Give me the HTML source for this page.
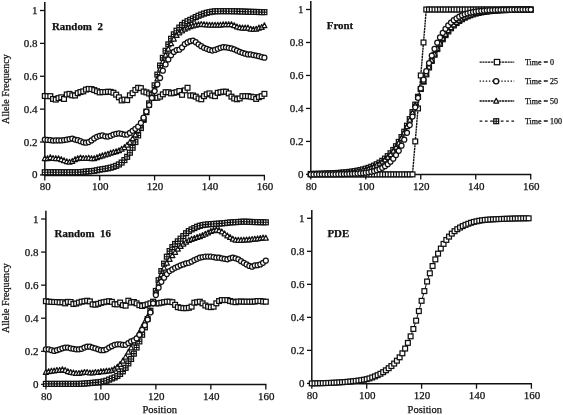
<!DOCTYPE html>
<html lang="en"><head><meta charset="utf-8"><title>Allele frequency clines</title>
<style>html,body{margin:0;padding:0;background:#fff}svg .ax text{stroke-width:0.25px}</style></head>
<body>
<svg width="563" height="415" viewBox="0 0 563 415" style="display:block" role="img" aria-label="Allele frequency versus position for four models">
<rect width="563" height="415" fill="#ffffff"/>
<g font-family="'Liberation Serif', serif" font-size="10.5" fill="#111" stroke="#111">
<g class="ax">
<path d="M44.80 2.00V175.40H265.00" fill="none" stroke-width="1.5"/><path d="M40.00 174.90H44.80" stroke-width="1.3"/><text x="37.50" y="178.40" text-anchor="end" font-size="11">0</text><path d="M40.00 142.02H44.80" stroke-width="1.3"/><text x="37.50" y="145.52" text-anchor="end" font-size="11">0.2</text><path d="M40.00 109.14H44.80" stroke-width="1.3"/><text x="37.50" y="112.64" text-anchor="end" font-size="11">0.4</text><path d="M40.00 76.26H44.80" stroke-width="1.3"/><text x="37.50" y="79.76" text-anchor="end" font-size="11">0.6</text><path d="M40.00 43.38H44.80" stroke-width="1.3"/><text x="37.50" y="46.88" text-anchor="end" font-size="11">0.8</text><path d="M40.00 10.50H44.80" stroke-width="1.3"/><text x="37.50" y="14.00" text-anchor="end" font-size="11">1</text><path d="M44.80 175.40V180.40" stroke-width="1.3"/><text x="45.30" y="190.40" text-anchor="middle" font-size="11">80</text><path d="M99.70 175.40V180.40" stroke-width="1.3"/><text x="100.20" y="190.40" text-anchor="middle" font-size="11">100</text><path d="M154.60 175.40V180.40" stroke-width="1.3"/><text x="155.10" y="190.40" text-anchor="middle" font-size="11">120</text><path d="M209.50 175.40V180.40" stroke-width="1.3"/><text x="210.00" y="190.40" text-anchor="middle" font-size="11">140</text><path d="M264.40 175.40V180.40" stroke-width="1.3"/><text x="264.90" y="190.40" text-anchor="middle" font-size="11">160</text>
<path d="M310.80 1.00V174.60H531.32" fill="none" stroke-width="1.5"/><path d="M306.00 174.40H310.80" stroke-width="1.3"/><text x="303.50" y="177.90" text-anchor="end" font-size="11">0</text><path d="M306.00 141.42H310.80" stroke-width="1.3"/><text x="303.50" y="144.92" text-anchor="end" font-size="11">0.2</text><path d="M306.00 108.44H310.80" stroke-width="1.3"/><text x="303.50" y="111.94" text-anchor="end" font-size="11">0.4</text><path d="M306.00 75.46H310.80" stroke-width="1.3"/><text x="303.50" y="78.96" text-anchor="end" font-size="11">0.6</text><path d="M306.00 42.48H310.80" stroke-width="1.3"/><text x="303.50" y="45.98" text-anchor="end" font-size="11">0.8</text><path d="M306.00 9.50H310.80" stroke-width="1.3"/><text x="303.50" y="13.00" text-anchor="end" font-size="11">1</text><path d="M310.80 174.60V179.60" stroke-width="1.3"/><text x="311.30" y="189.60" text-anchor="middle" font-size="11">80</text><path d="M365.78 174.60V179.60" stroke-width="1.3"/><text x="366.28" y="189.60" text-anchor="middle" font-size="11">100</text><path d="M420.76 174.60V179.60" stroke-width="1.3"/><text x="421.26" y="189.60" text-anchor="middle" font-size="11">120</text><path d="M475.74 174.60V179.60" stroke-width="1.3"/><text x="476.24" y="189.60" text-anchor="middle" font-size="11">140</text><path d="M530.72 174.60V179.60" stroke-width="1.3"/><text x="531.22" y="189.60" text-anchor="middle" font-size="11">160</text>
<path d="M45.90 210.80V384.60H266.42" fill="none" stroke-width="1.5"/><path d="M41.10 384.40H45.90" stroke-width="1.3"/><text x="38.60" y="387.90" text-anchor="end" font-size="11">0</text><path d="M41.10 351.32H45.90" stroke-width="1.3"/><text x="38.60" y="354.82" text-anchor="end" font-size="11">0.2</text><path d="M41.10 318.24H45.90" stroke-width="1.3"/><text x="38.60" y="321.74" text-anchor="end" font-size="11">0.4</text><path d="M41.10 285.16H45.90" stroke-width="1.3"/><text x="38.60" y="288.66" text-anchor="end" font-size="11">0.6</text><path d="M41.10 252.08H45.90" stroke-width="1.3"/><text x="38.60" y="255.58" text-anchor="end" font-size="11">0.8</text><path d="M41.10 219.00H45.90" stroke-width="1.3"/><text x="38.60" y="222.50" text-anchor="end" font-size="11">1</text><path d="M45.90 384.60V389.60" stroke-width="1.3"/><text x="46.40" y="399.60" text-anchor="middle" font-size="11">80</text><path d="M100.88 384.60V389.60" stroke-width="1.3"/><text x="101.38" y="399.60" text-anchor="middle" font-size="11">100</text><path d="M155.86 384.60V389.60" stroke-width="1.3"/><text x="156.36" y="399.60" text-anchor="middle" font-size="11">120</text><path d="M210.84 384.60V389.60" stroke-width="1.3"/><text x="211.34" y="399.60" text-anchor="middle" font-size="11">140</text><path d="M265.82 384.60V389.60" stroke-width="1.3"/><text x="266.32" y="399.60" text-anchor="middle" font-size="11">160</text>
<path d="M311.80 210.00V383.70H532.00" fill="none" stroke-width="1.5"/><path d="M307.00 383.40H311.80" stroke-width="1.3"/><text x="304.50" y="386.90" text-anchor="end" font-size="11">0</text><path d="M307.00 350.38H311.80" stroke-width="1.3"/><text x="304.50" y="353.88" text-anchor="end" font-size="11">0.2</text><path d="M307.00 317.36H311.80" stroke-width="1.3"/><text x="304.50" y="320.86" text-anchor="end" font-size="11">0.4</text><path d="M307.00 284.34H311.80" stroke-width="1.3"/><text x="304.50" y="287.84" text-anchor="end" font-size="11">0.6</text><path d="M307.00 251.32H311.80" stroke-width="1.3"/><text x="304.50" y="254.82" text-anchor="end" font-size="11">0.8</text><path d="M307.00 218.30H311.80" stroke-width="1.3"/><text x="304.50" y="221.80" text-anchor="end" font-size="11">1</text><path d="M311.80 383.70V388.70" stroke-width="1.3"/><text x="312.30" y="398.70" text-anchor="middle" font-size="11">80</text><path d="M366.70 383.70V388.70" stroke-width="1.3"/><text x="367.20" y="398.70" text-anchor="middle" font-size="11">100</text><path d="M421.60 383.70V388.70" stroke-width="1.3"/><text x="422.10" y="398.70" text-anchor="middle" font-size="11">120</text><path d="M476.50 383.70V388.70" stroke-width="1.3"/><text x="477.00" y="398.70" text-anchor="middle" font-size="11">140</text><path d="M531.40 383.70V388.70" stroke-width="1.3"/><text x="531.90" y="398.70" text-anchor="middle" font-size="11">160</text>
</g>
<g fill="#fff" stroke="#111" stroke-width="1.25">
<g><rect x="42.40" y="93.59" width="4.8" height="4.8"/><rect x="45.14" y="93.75" width="4.8" height="4.8"/><rect x="47.89" y="93.75" width="4.8" height="4.8"/><rect x="50.63" y="96.55" width="4.8" height="4.8"/><rect x="53.38" y="97.20" width="4.8" height="4.8"/><rect x="56.12" y="95.73" width="4.8" height="4.8"/><rect x="58.87" y="94.90" width="4.8" height="4.8"/><rect x="61.62" y="96.55" width="4.8" height="4.8"/><rect x="64.36" y="92.11" width="4.8" height="4.8"/><rect x="67.10" y="91.45" width="4.8" height="4.8"/><rect x="69.85" y="92.93" width="4.8" height="4.8"/><rect x="72.59" y="93.09" width="4.8" height="4.8"/><rect x="75.34" y="90.79" width="4.8" height="4.8"/><rect x="78.08" y="89.64" width="4.8" height="4.8"/><rect x="80.83" y="88.98" width="4.8" height="4.8"/><rect x="83.57" y="87.18" width="4.8" height="4.8"/><rect x="86.32" y="86.52" width="4.8" height="4.8"/><rect x="89.06" y="86.68" width="4.8" height="4.8"/><rect x="91.81" y="87.67" width="4.8" height="4.8"/><rect x="94.55" y="88.82" width="4.8" height="4.8"/><rect x="97.30" y="89.97" width="4.8" height="4.8"/><rect x="100.04" y="89.64" width="4.8" height="4.8"/><rect x="102.79" y="89.64" width="4.8" height="4.8"/><rect x="105.53" y="89.31" width="4.8" height="4.8"/><rect x="108.28" y="89.48" width="4.8" height="4.8"/><rect x="111.02" y="90.30" width="4.8" height="4.8"/><rect x="113.77" y="92.27" width="4.8" height="4.8"/><rect x="116.52" y="94.90" width="4.8" height="4.8"/><rect x="119.26" y="98.03" width="4.8" height="4.8"/><rect x="122.00" y="97.20" width="4.8" height="4.8"/><rect x="124.75" y="97.70" width="4.8" height="4.8"/><rect x="127.49" y="92.93" width="4.8" height="4.8"/><rect x="130.24" y="90.79" width="4.8" height="4.8"/><rect x="132.98" y="87.51" width="4.8" height="4.8"/><rect x="135.73" y="85.37" width="4.8" height="4.8"/><rect x="138.47" y="85.70" width="4.8" height="4.8"/><rect x="141.22" y="89.15" width="4.8" height="4.8"/><rect x="143.97" y="89.97" width="4.8" height="4.8"/><rect x="146.71" y="91.12" width="4.8" height="4.8"/><rect x="149.46" y="92.27" width="4.8" height="4.8"/><rect x="152.20" y="95.56" width="4.8" height="4.8"/><rect x="154.94" y="95.40" width="4.8" height="4.8"/><rect x="157.69" y="94.25" width="4.8" height="4.8"/><rect x="160.44" y="91.94" width="4.8" height="4.8"/><rect x="163.18" y="89.81" width="4.8" height="4.8"/><rect x="165.92" y="89.81" width="4.8" height="4.8"/><rect x="168.67" y="90.96" width="4.8" height="4.8"/><rect x="171.41" y="90.46" width="4.8" height="4.8"/><rect x="174.16" y="89.81" width="4.8" height="4.8"/><rect x="176.91" y="88.66" width="4.8" height="4.8"/><rect x="179.65" y="92.44" width="4.8" height="4.8"/><rect x="182.40" y="88.00" width="4.8" height="4.8"/><rect x="185.14" y="85.37" width="4.8" height="4.8"/><rect x="187.89" y="93.09" width="4.8" height="4.8"/><rect x="190.63" y="93.09" width="4.8" height="4.8"/><rect x="193.37" y="94.25" width="4.8" height="4.8"/><rect x="196.12" y="96.05" width="4.8" height="4.8"/><rect x="198.86" y="96.88" width="4.8" height="4.8"/><rect x="201.61" y="93.75" width="4.8" height="4.8"/><rect x="204.35" y="91.94" width="4.8" height="4.8"/><rect x="207.10" y="90.96" width="4.8" height="4.8"/><rect x="209.84" y="93.09" width="4.8" height="4.8"/><rect x="212.59" y="93.75" width="4.8" height="4.8"/><rect x="215.34" y="90.46" width="4.8" height="4.8"/><rect x="218.08" y="89.81" width="4.8" height="4.8"/><rect x="220.83" y="89.31" width="4.8" height="4.8"/><rect x="223.57" y="89.31" width="4.8" height="4.8"/><rect x="226.32" y="90.96" width="4.8" height="4.8"/><rect x="229.06" y="94.25" width="4.8" height="4.8"/><rect x="231.80" y="96.05" width="4.8" height="4.8"/><rect x="234.55" y="96.88" width="4.8" height="4.8"/><rect x="237.29" y="96.05" width="4.8" height="4.8"/><rect x="240.04" y="93.75" width="4.8" height="4.8"/><rect x="242.78" y="93.75" width="4.8" height="4.8"/><rect x="245.53" y="93.75" width="4.8" height="4.8"/><rect x="248.28" y="94.25" width="4.8" height="4.8"/><rect x="251.02" y="94.74" width="4.8" height="4.8"/><rect x="253.77" y="96.55" width="4.8" height="4.8"/><rect x="256.51" y="94.74" width="4.8" height="4.8"/><rect x="259.26" y="93.75" width="4.8" height="4.8"/><rect x="262.00" y="91.45" width="4.8" height="4.8"/></g>
<g><rect x="42.35" y="169.82" width="4.9" height="4.9"/><path d="M42.35 172.27H47.25M44.80 169.82V174.72" stroke-width="1.1"/><rect x="45.09" y="169.82" width="4.9" height="4.9"/><path d="M45.09 172.27H49.99M47.54 169.82V174.72" stroke-width="1.1"/><rect x="47.84" y="169.82" width="4.9" height="4.9"/><path d="M47.84 172.27H52.74M50.29 169.82V174.72" stroke-width="1.1"/><rect x="50.58" y="169.82" width="4.9" height="4.9"/><path d="M50.58 172.27H55.48M53.03 169.82V174.72" stroke-width="1.1"/><rect x="53.33" y="169.82" width="4.9" height="4.9"/><path d="M53.33 172.27H58.23M55.78 169.82V174.72" stroke-width="1.1"/><rect x="56.07" y="169.82" width="4.9" height="4.9"/><path d="M56.07 172.27H60.98M58.52 169.82V174.72" stroke-width="1.1"/><rect x="58.82" y="169.82" width="4.9" height="4.9"/><path d="M58.82 172.27H63.72M61.27 169.82V174.72" stroke-width="1.1"/><rect x="61.56" y="169.82" width="4.9" height="4.9"/><path d="M61.56 172.27H66.47M64.02 169.82V174.72" stroke-width="1.1"/><rect x="64.31" y="169.82" width="4.9" height="4.9"/><path d="M64.31 172.27H69.21M66.76 169.82V174.72" stroke-width="1.1"/><rect x="67.05" y="169.82" width="4.9" height="4.9"/><path d="M67.05 172.27H71.95M69.50 169.82V174.72" stroke-width="1.1"/><rect x="69.80" y="169.82" width="4.9" height="4.9"/><path d="M69.80 172.27H74.70M72.25 169.82V174.72" stroke-width="1.1"/><rect x="72.55" y="169.82" width="4.9" height="4.9"/><path d="M72.55 172.27H77.45M75.00 169.82V174.72" stroke-width="1.1"/><rect x="75.29" y="169.82" width="4.9" height="4.9"/><path d="M75.29 172.27H80.19M77.74 169.82V174.72" stroke-width="1.1"/><rect x="78.03" y="169.70" width="4.9" height="4.9"/><path d="M78.03 172.15H82.94M80.48 169.70V174.60" stroke-width="1.1"/><rect x="80.78" y="169.44" width="4.9" height="4.9"/><path d="M80.78 171.89H85.68M83.23 169.44V174.34" stroke-width="1.1"/><rect x="83.52" y="169.16" width="4.9" height="4.9"/><path d="M83.52 171.61H88.42M85.97 169.16V174.06" stroke-width="1.1"/><rect x="86.27" y="168.93" width="4.9" height="4.9"/><path d="M86.27 171.38H91.17M88.72 168.93V173.83" stroke-width="1.1"/><rect x="89.02" y="168.67" width="4.9" height="4.9"/><path d="M89.02 171.12H93.92M91.47 168.67V173.57" stroke-width="1.1"/><rect x="91.76" y="168.34" width="4.9" height="4.9"/><path d="M91.76 170.79H96.66M94.21 168.34V173.24" stroke-width="1.1"/><rect x="94.50" y="167.80" width="4.9" height="4.9"/><path d="M94.50 170.25H99.41M96.95 167.80V172.70" stroke-width="1.1"/><rect x="97.25" y="167.19" width="4.9" height="4.9"/><path d="M97.25 169.64H102.15M99.70 167.19V172.09" stroke-width="1.1"/><rect x="99.99" y="166.75" width="4.9" height="4.9"/><path d="M99.99 169.20H104.89M102.44 166.75V171.65" stroke-width="1.1"/><rect x="102.74" y="166.36" width="4.9" height="4.9"/><path d="M102.74 168.81H107.64M105.19 166.36V171.26" stroke-width="1.1"/><rect x="105.48" y="165.87" width="4.9" height="4.9"/><path d="M105.48 168.32H110.39M107.94 165.87V170.77" stroke-width="1.1"/><rect x="108.23" y="165.23" width="4.9" height="4.9"/><path d="M108.23 167.68H113.13M110.68 165.23V170.13" stroke-width="1.1"/><rect x="110.97" y="164.42" width="4.9" height="4.9"/><path d="M110.97 166.87H115.88M113.42 164.42V169.32" stroke-width="1.1"/><rect x="113.72" y="163.41" width="4.9" height="4.9"/><path d="M113.72 165.86H118.62M116.17 163.41V168.31" stroke-width="1.1"/><rect x="116.47" y="161.99" width="4.9" height="4.9"/><path d="M116.47 164.44H121.37M118.92 161.99V166.89" stroke-width="1.1"/><rect x="119.21" y="160.12" width="4.9" height="4.9"/><path d="M119.21 162.57H124.11M121.66 160.12V165.02" stroke-width="1.1"/><rect x="121.95" y="157.65" width="4.9" height="4.9"/><path d="M121.95 160.10H126.86M124.41 157.65V162.55" stroke-width="1.1"/><rect x="124.70" y="154.37" width="4.9" height="4.9"/><path d="M124.70 156.82H129.60M127.15 154.37V159.27" stroke-width="1.1"/><rect x="127.44" y="150.26" width="4.9" height="4.9"/><path d="M127.44 152.71H132.34M129.89 150.26V155.16" stroke-width="1.1"/><rect x="130.19" y="145.32" width="4.9" height="4.9"/><path d="M130.19 147.77H135.09M132.64 145.32V150.22" stroke-width="1.1"/><rect x="132.94" y="139.57" width="4.9" height="4.9"/><path d="M132.94 142.02H137.83M135.38 139.57V144.47" stroke-width="1.1"/><rect x="135.68" y="132.99" width="4.9" height="4.9"/><path d="M135.68 135.44H140.58M138.13 132.99V137.89" stroke-width="1.1"/><rect x="138.43" y="125.60" width="4.9" height="4.9"/><path d="M138.43 128.05H143.32M140.88 125.60V130.50" stroke-width="1.1"/><rect x="141.17" y="117.38" width="4.9" height="4.9"/><path d="M141.17 119.83H146.07M143.62 117.38V122.28" stroke-width="1.1"/><rect x="143.92" y="109.16" width="4.9" height="4.9"/><path d="M143.92 111.61H148.81M146.37 109.16V114.06" stroke-width="1.1"/><rect x="146.66" y="100.94" width="4.9" height="4.9"/><path d="M146.66 103.39H151.56M149.11 100.94V105.84" stroke-width="1.1"/><rect x="149.41" y="92.72" width="4.9" height="4.9"/><path d="M149.41 95.17H154.31M151.86 92.72V97.62" stroke-width="1.1"/><rect x="152.15" y="82.85" width="4.9" height="4.9"/><path d="M152.15 85.30H157.05M154.60 82.85V87.75" stroke-width="1.1"/><rect x="154.90" y="72.17" width="4.9" height="4.9"/><path d="M154.90 74.62H159.79M157.34 72.17V77.07" stroke-width="1.1"/><rect x="157.64" y="63.12" width="4.9" height="4.9"/><path d="M157.64 65.57H162.54M160.09 63.12V68.02" stroke-width="1.1"/><rect x="160.39" y="55.40" width="4.9" height="4.9"/><path d="M160.39 57.85H165.28M162.84 55.40V60.30" stroke-width="1.1"/><rect x="163.13" y="48.33" width="4.9" height="4.9"/><path d="M163.13 50.78H168.03M165.58 48.33V53.23" stroke-width="1.1"/><rect x="165.88" y="41.92" width="4.9" height="4.9"/><path d="M165.88 44.37H170.77M168.32 41.92V46.82" stroke-width="1.1"/><rect x="168.62" y="36.33" width="4.9" height="4.9"/><path d="M168.62 38.78H173.52M171.07 36.33V41.23" stroke-width="1.1"/><rect x="171.37" y="31.89" width="4.9" height="4.9"/><path d="M171.37 34.34H176.26M173.81 31.89V36.79" stroke-width="1.1"/><rect x="174.11" y="28.27" width="4.9" height="4.9"/><path d="M174.11 30.72H179.01M176.56 28.27V33.17" stroke-width="1.1"/><rect x="176.86" y="25.15" width="4.9" height="4.9"/><path d="M176.86 27.60H181.75M179.31 25.15V30.05" stroke-width="1.1"/><rect x="179.60" y="22.52" width="4.9" height="4.9"/><path d="M179.60 24.97H184.50M182.05 22.52V27.42" stroke-width="1.1"/><rect x="182.35" y="20.38" width="4.9" height="4.9"/><path d="M182.35 22.83H187.25M184.80 20.38V25.28" stroke-width="1.1"/><rect x="185.09" y="18.74" width="4.9" height="4.9"/><path d="M185.09 21.19H189.99M187.54 18.74V23.64" stroke-width="1.1"/><rect x="187.84" y="17.42" width="4.9" height="4.9"/><path d="M187.84 19.87H192.74M190.29 17.42V22.32" stroke-width="1.1"/><rect x="190.58" y="16.11" width="4.9" height="4.9"/><path d="M190.58 18.56H195.48M193.03 16.11V21.01" stroke-width="1.1"/><rect x="193.32" y="14.63" width="4.9" height="4.9"/><path d="M193.32 17.08H198.22M195.77 14.63V19.53" stroke-width="1.1"/><rect x="196.07" y="13.31" width="4.9" height="4.9"/><path d="M196.07 15.76H200.97M198.52 13.31V18.21" stroke-width="1.1"/><rect x="198.81" y="12.16" width="4.9" height="4.9"/><path d="M198.81 14.61H203.71M201.26 12.16V17.06" stroke-width="1.1"/><rect x="201.56" y="11.17" width="4.9" height="4.9"/><path d="M201.56 13.62H206.46M204.01 11.17V16.07" stroke-width="1.1"/><rect x="204.31" y="10.35" width="4.9" height="4.9"/><path d="M204.31 12.80H209.20M206.75 10.35V15.25" stroke-width="1.1"/><rect x="207.05" y="9.69" width="4.9" height="4.9"/><path d="M207.05 12.14H211.95M209.50 9.69V14.59" stroke-width="1.1"/><rect x="209.80" y="9.18" width="4.9" height="4.9"/><path d="M209.80 11.63H214.69M212.25 9.18V14.08" stroke-width="1.1"/><rect x="212.54" y="8.87" width="4.9" height="4.9"/><path d="M212.54 11.32H217.44M214.99 8.87V13.77" stroke-width="1.1"/><rect x="215.29" y="8.78" width="4.9" height="4.9"/><path d="M215.29 11.23H220.19M217.74 8.78V13.68" stroke-width="1.1"/><rect x="218.03" y="8.73" width="4.9" height="4.9"/><path d="M218.03 11.18H222.93M220.48 8.73V13.63" stroke-width="1.1"/><rect x="220.78" y="8.71" width="4.9" height="4.9"/><path d="M220.78 11.16H225.68M223.23 8.71V13.61" stroke-width="1.1"/><rect x="223.52" y="8.72" width="4.9" height="4.9"/><path d="M223.52 11.17H228.42M225.97 8.72V13.62" stroke-width="1.1"/><rect x="226.27" y="8.74" width="4.9" height="4.9"/><path d="M226.27 11.19H231.17M228.72 8.74V13.64" stroke-width="1.1"/><rect x="229.01" y="8.78" width="4.9" height="4.9"/><path d="M229.01 11.23H233.91M231.46 8.78V13.68" stroke-width="1.1"/><rect x="231.75" y="8.82" width="4.9" height="4.9"/><path d="M231.75 11.27H236.65M234.20 8.82V13.72" stroke-width="1.1"/><rect x="234.50" y="8.87" width="4.9" height="4.9"/><path d="M234.50 11.32H239.40M236.95 8.87V13.77" stroke-width="1.1"/><rect x="237.25" y="8.94" width="4.9" height="4.9"/><path d="M237.25 11.39H242.14M239.69 8.94V13.84" stroke-width="1.1"/><rect x="239.99" y="9.04" width="4.9" height="4.9"/><path d="M239.99 11.49H244.89M242.44 9.04V13.94" stroke-width="1.1"/><rect x="242.74" y="9.16" width="4.9" height="4.9"/><path d="M242.74 11.61H247.63M245.19 9.16V14.06" stroke-width="1.1"/><rect x="245.48" y="9.27" width="4.9" height="4.9"/><path d="M245.48 11.72H250.38M247.93 9.27V14.17" stroke-width="1.1"/><rect x="248.23" y="9.37" width="4.9" height="4.9"/><path d="M248.23 11.82H253.12M250.68 9.37V14.27" stroke-width="1.1"/><rect x="250.97" y="9.44" width="4.9" height="4.9"/><path d="M250.97 11.89H255.87M253.42 9.44V14.34" stroke-width="1.1"/><rect x="253.72" y="9.51" width="4.9" height="4.9"/><path d="M253.72 11.96H258.62M256.17 9.51V14.41" stroke-width="1.1"/><rect x="256.46" y="9.58" width="4.9" height="4.9"/><path d="M256.46 12.03H261.36M258.91 9.58V14.48" stroke-width="1.1"/><rect x="259.21" y="9.64" width="4.9" height="4.9"/><path d="M259.21 12.09H264.11M261.66 9.64V14.54" stroke-width="1.1"/><rect x="261.95" y="9.69" width="4.9" height="4.9"/><path d="M261.95 12.14H266.85M264.40 9.69V14.59" stroke-width="1.1"/></g>
<g><path d="M42.30 160.55L44.80 155.70L47.30 160.55Z" stroke-linejoin="round"/><path d="M45.04 160.55L47.54 155.70L50.04 160.55Z" stroke-linejoin="round"/><path d="M47.79 159.56L50.29 154.71L52.79 159.56Z" stroke-linejoin="round"/><path d="M50.53 160.38L53.03 155.53L55.53 160.38Z" stroke-linejoin="round"/><path d="M53.28 160.55L55.78 155.70L58.28 160.55Z" stroke-linejoin="round"/><path d="M56.02 160.71L58.52 155.86L61.02 160.71Z" stroke-linejoin="round"/><path d="M58.77 161.53L61.27 156.68L63.77 161.53Z" stroke-linejoin="round"/><path d="M61.52 162.68L64.02 157.83L66.52 162.68Z" stroke-linejoin="round"/><path d="M64.26 163.67L66.76 158.82L69.26 163.67Z" stroke-linejoin="round"/><path d="M67.00 164.16L69.50 159.31L72.00 164.16Z" stroke-linejoin="round"/><path d="M69.75 163.34L72.25 158.49L74.75 163.34Z" stroke-linejoin="round"/><path d="M72.50 161.53L75.00 156.68L77.50 161.53Z" stroke-linejoin="round"/><path d="M75.24 160.55L77.74 155.70L80.24 160.55Z" stroke-linejoin="round"/><path d="M77.98 159.89L80.48 155.04L82.98 159.89Z" stroke-linejoin="round"/><path d="M80.73 160.38L83.23 155.53L85.73 160.38Z" stroke-linejoin="round"/><path d="M83.47 160.38L85.97 155.53L88.47 160.38Z" stroke-linejoin="round"/><path d="M86.22 160.05L88.72 155.20L91.22 160.05Z" stroke-linejoin="round"/><path d="M88.97 160.55L91.47 155.70L93.97 160.55Z" stroke-linejoin="round"/><path d="M91.71 160.55L94.21 155.70L96.71 160.55Z" stroke-linejoin="round"/><path d="M94.45 159.72L96.95 154.87L99.45 159.72Z" stroke-linejoin="round"/><path d="M97.20 158.57L99.70 153.72L102.20 158.57Z" stroke-linejoin="round"/><path d="M99.94 157.75L102.44 152.90L104.94 157.75Z" stroke-linejoin="round"/><path d="M102.69 156.93L105.19 152.08L107.69 156.93Z" stroke-linejoin="round"/><path d="M105.44 156.11L107.94 151.26L110.44 156.11Z" stroke-linejoin="round"/><path d="M108.18 155.12L110.68 150.27L113.18 155.12Z" stroke-linejoin="round"/><path d="M110.92 154.30L113.42 149.45L115.92 154.30Z" stroke-linejoin="round"/><path d="M113.67 153.64L116.17 148.79L118.67 153.64Z" stroke-linejoin="round"/><path d="M116.42 152.65L118.92 147.80L121.42 152.65Z" stroke-linejoin="round"/><path d="M119.16 151.17L121.66 146.32L124.16 151.17Z" stroke-linejoin="round"/><path d="M121.91 149.53L124.41 144.68L126.91 149.53Z" stroke-linejoin="round"/><path d="M124.65 147.06L127.15 142.21L129.65 147.06Z" stroke-linejoin="round"/><path d="M127.39 144.27L129.89 139.42L132.39 144.27Z" stroke-linejoin="round"/><path d="M130.14 140.65L132.64 135.80L135.14 140.65Z" stroke-linejoin="round"/><path d="M132.88 136.87L135.38 132.02L137.88 136.87Z" stroke-linejoin="round"/><path d="M135.63 132.43L138.13 127.58L140.63 132.43Z" stroke-linejoin="round"/><path d="M138.38 127.01L140.88 122.16L143.38 127.01Z" stroke-linejoin="round"/><path d="M141.12 121.25L143.62 116.40L146.12 121.25Z" stroke-linejoin="round"/><path d="M143.87 114.68L146.37 109.83L148.87 114.68Z" stroke-linejoin="round"/><path d="M146.61 107.28L149.11 102.43L151.61 107.28Z" stroke-linejoin="round"/><path d="M149.36 99.88L151.86 95.03L154.36 99.88Z" stroke-linejoin="round"/><path d="M152.10 90.84L154.60 85.99L157.10 90.84Z" stroke-linejoin="round"/><path d="M154.84 80.98L157.34 76.13L159.84 80.98Z" stroke-linejoin="round"/><path d="M157.59 71.11L160.09 66.26L162.59 71.11Z" stroke-linejoin="round"/><path d="M160.34 63.71L162.84 58.86L165.34 63.71Z" stroke-linejoin="round"/><path d="M163.08 57.14L165.58 52.29L168.08 57.14Z" stroke-linejoin="round"/><path d="M165.82 51.06L168.32 46.21L170.82 51.06Z" stroke-linejoin="round"/><path d="M168.57 45.63L171.07 40.78L173.57 45.63Z" stroke-linejoin="round"/><path d="M171.31 41.03L173.81 36.18L176.31 41.03Z" stroke-linejoin="round"/><path d="M174.06 37.41L176.56 32.56L179.06 37.41Z" stroke-linejoin="round"/><path d="M176.81 34.78L179.31 29.93L181.81 34.78Z" stroke-linejoin="round"/><path d="M179.55 32.81L182.05 27.96L184.55 32.81Z" stroke-linejoin="round"/><path d="M182.30 31.16L184.80 26.31L187.30 31.16Z" stroke-linejoin="round"/><path d="M185.04 29.85L187.54 25.00L190.04 29.85Z" stroke-linejoin="round"/><path d="M187.79 28.70L190.29 23.85L192.79 28.70Z" stroke-linejoin="round"/><path d="M190.53 27.87L193.03 23.02L195.53 27.87Z" stroke-linejoin="round"/><path d="M193.27 27.22L195.77 22.37L198.27 27.22Z" stroke-linejoin="round"/><path d="M196.02 26.72L198.52 21.87L201.02 26.72Z" stroke-linejoin="round"/><path d="M198.76 26.40L201.26 21.55L203.76 26.40Z" stroke-linejoin="round"/><path d="M201.51 26.56L204.01 21.71L206.51 26.56Z" stroke-linejoin="round"/><path d="M204.25 26.94L206.75 22.09L209.25 26.94Z" stroke-linejoin="round"/><path d="M207.00 27.22L209.50 22.37L212.00 27.22Z" stroke-linejoin="round"/><path d="M209.75 27.22L212.25 22.37L214.75 27.22Z" stroke-linejoin="round"/><path d="M212.49 27.22L214.99 22.37L217.49 27.22Z" stroke-linejoin="round"/><path d="M215.24 27.22L217.74 22.37L220.24 27.22Z" stroke-linejoin="round"/><path d="M217.98 27.05L220.48 22.20L222.98 27.05Z" stroke-linejoin="round"/><path d="M220.73 26.73L223.23 21.88L225.73 26.73Z" stroke-linejoin="round"/><path d="M223.47 26.56L225.97 21.71L228.47 26.56Z" stroke-linejoin="round"/><path d="M226.22 26.56L228.72 21.71L231.22 26.56Z" stroke-linejoin="round"/><path d="M228.96 26.56L231.46 21.71L233.96 26.56Z" stroke-linejoin="round"/><path d="M231.70 27.55L234.20 22.70L236.70 27.55Z" stroke-linejoin="round"/><path d="M234.45 28.86L236.95 24.01L239.45 28.86Z" stroke-linejoin="round"/><path d="M237.19 29.65L239.69 24.80L242.19 29.65Z" stroke-linejoin="round"/><path d="M239.94 30.01L242.44 25.16L244.94 30.01Z" stroke-linejoin="round"/><path d="M242.69 30.01L245.19 25.16L247.69 30.01Z" stroke-linejoin="round"/><path d="M245.43 30.01L247.93 25.16L250.43 30.01Z" stroke-linejoin="round"/><path d="M248.18 31.16L250.68 26.31L253.18 31.16Z" stroke-linejoin="round"/><path d="M250.92 31.49L253.42 26.64L255.92 31.49Z" stroke-linejoin="round"/><path d="M253.67 31.16L256.17 26.31L258.67 31.16Z" stroke-linejoin="round"/><path d="M256.41 30.01L258.91 25.16L261.41 30.01Z" stroke-linejoin="round"/><path d="M259.16 29.35L261.66 24.50L264.16 29.35Z" stroke-linejoin="round"/><path d="M261.90 27.71L264.40 22.86L266.90 27.71Z" stroke-linejoin="round"/></g>
<g><circle cx="44.80" cy="139.55" r="2.5"/><circle cx="47.54" cy="139.88" r="2.5"/><circle cx="50.29" cy="140.21" r="2.5"/><circle cx="53.03" cy="140.54" r="2.5"/><circle cx="55.78" cy="140.38" r="2.5"/><circle cx="58.52" cy="140.38" r="2.5"/><circle cx="61.27" cy="140.38" r="2.5"/><circle cx="64.02" cy="140.05" r="2.5"/><circle cx="66.76" cy="139.72" r="2.5"/><circle cx="69.50" cy="139.06" r="2.5"/><circle cx="72.25" cy="138.57" r="2.5"/><circle cx="75.00" cy="139.55" r="2.5"/><circle cx="77.74" cy="140.21" r="2.5"/><circle cx="80.48" cy="141.20" r="2.5"/><circle cx="83.23" cy="142.35" r="2.5"/><circle cx="85.97" cy="142.68" r="2.5"/><circle cx="88.72" cy="142.02" r="2.5"/><circle cx="91.47" cy="140.38" r="2.5"/><circle cx="94.21" cy="138.40" r="2.5"/><circle cx="96.95" cy="136.76" r="2.5"/><circle cx="99.70" cy="135.77" r="2.5"/><circle cx="102.44" cy="135.44" r="2.5"/><circle cx="105.19" cy="136.27" r="2.5"/><circle cx="107.94" cy="136.59" r="2.5"/><circle cx="110.68" cy="135.77" r="2.5"/><circle cx="113.42" cy="134.62" r="2.5"/><circle cx="116.17" cy="133.80" r="2.5"/><circle cx="118.92" cy="133.47" r="2.5"/><circle cx="121.66" cy="133.80" r="2.5"/><circle cx="124.41" cy="134.62" r="2.5"/><circle cx="127.15" cy="134.62" r="2.5"/><circle cx="129.89" cy="132.98" r="2.5"/><circle cx="132.64" cy="130.84" r="2.5"/><circle cx="135.38" cy="128.87" r="2.5"/><circle cx="138.13" cy="126.73" r="2.5"/><circle cx="140.88" cy="122.95" r="2.5"/><circle cx="143.62" cy="117.69" r="2.5"/><circle cx="146.37" cy="111.61" r="2.5"/><circle cx="149.11" cy="105.03" r="2.5"/><circle cx="151.86" cy="97.96" r="2.5"/><circle cx="154.60" cy="91.06" r="2.5"/><circle cx="157.34" cy="84.48" r="2.5"/><circle cx="160.09" cy="77.90" r="2.5"/><circle cx="162.84" cy="70.67" r="2.5"/><circle cx="165.58" cy="64.42" r="2.5"/><circle cx="168.32" cy="59.49" r="2.5"/><circle cx="171.07" cy="55.22" r="2.5"/><circle cx="173.81" cy="51.93" r="2.5"/><circle cx="176.56" cy="50.12" r="2.5"/><circle cx="179.31" cy="49.63" r="2.5"/><circle cx="182.05" cy="47.49" r="2.5"/><circle cx="184.80" cy="44.04" r="2.5"/><circle cx="187.54" cy="42.39" r="2.5"/><circle cx="190.29" cy="41.24" r="2.5"/><circle cx="193.03" cy="40.59" r="2.5"/><circle cx="195.77" cy="42.23" r="2.5"/><circle cx="198.52" cy="44.37" r="2.5"/><circle cx="201.26" cy="46.17" r="2.5"/><circle cx="204.01" cy="47.82" r="2.5"/><circle cx="206.75" cy="48.81" r="2.5"/><circle cx="209.50" cy="49.96" r="2.5"/><circle cx="212.25" cy="50.61" r="2.5"/><circle cx="214.99" cy="49.96" r="2.5"/><circle cx="217.74" cy="48.81" r="2.5"/><circle cx="220.48" cy="47.82" r="2.5"/><circle cx="223.23" cy="47.16" r="2.5"/><circle cx="225.97" cy="47.33" r="2.5"/><circle cx="228.72" cy="47.82" r="2.5"/><circle cx="231.46" cy="48.48" r="2.5"/><circle cx="234.20" cy="49.30" r="2.5"/><circle cx="236.95" cy="50.61" r="2.5"/><circle cx="239.69" cy="51.76" r="2.5"/><circle cx="242.44" cy="52.75" r="2.5"/><circle cx="245.19" cy="53.74" r="2.5"/><circle cx="247.93" cy="54.39" r="2.5"/><circle cx="250.68" cy="54.39" r="2.5"/><circle cx="253.42" cy="55.05" r="2.5"/><circle cx="256.17" cy="55.55" r="2.5"/><circle cx="258.91" cy="56.20" r="2.5"/><circle cx="261.66" cy="57.03" r="2.5"/><circle cx="264.40" cy="57.68" r="2.5"/></g>
<polyline points="310.80,174.40 313.55,174.40 316.30,174.40 319.05,174.40 321.80,174.40 324.55,174.40 327.29,174.40 330.04,174.40 332.79,174.40 335.54,174.40 338.29,174.40 341.04,174.40 343.79,174.40 346.54,174.40 349.29,174.40 352.04,174.40 354.78,174.40 357.53,174.40 360.28,174.40 363.03,174.40 365.78,174.40 368.53,174.40 371.28,174.40 374.03,174.40 376.78,174.40 379.53,174.40 382.27,174.40 385.02,174.40 387.77,174.40 390.52,174.40 393.27,174.40 396.02,174.40 398.77,174.40 401.52,174.40 404.27,174.40 407.01,174.40 409.76,174.40 412.51,174.40 415.26,141.42 418.01,108.44 420.76,75.46 423.51,42.48 426.26,9.50 429.01,9.50 431.76,9.50 434.50,9.50 437.25,9.50 440.00,9.50 442.75,9.50 445.50,9.50 448.25,9.50 451.00,9.50 453.75,9.50 456.50,9.50 459.25,9.50 462.00,9.50 464.74,9.50 467.49,9.50 470.24,9.50 472.99,9.50 475.74,9.50 478.49,9.50 481.24,9.50 483.99,9.50 486.74,9.50 489.49,9.50 492.23,9.50 494.98,9.50 497.73,9.50 500.48,9.50 503.23,9.50 505.98,9.50 508.73,9.50 511.48,9.50 514.23,9.50 516.98,9.50 519.72,9.50 522.47,9.50 525.22,9.50 527.97,9.50 530.72,9.50" fill="none" stroke-width="1.4" stroke-dasharray="2.2 0.6"/>
<g><rect x="308.40" y="172.00" width="4.8" height="4.8"/><rect x="311.15" y="172.00" width="4.8" height="4.8"/><rect x="313.90" y="172.00" width="4.8" height="4.8"/><rect x="316.65" y="172.00" width="4.8" height="4.8"/><rect x="319.40" y="172.00" width="4.8" height="4.8"/><rect x="322.15" y="172.00" width="4.8" height="4.8"/><rect x="324.89" y="172.00" width="4.8" height="4.8"/><rect x="327.64" y="172.00" width="4.8" height="4.8"/><rect x="330.39" y="172.00" width="4.8" height="4.8"/><rect x="333.14" y="172.00" width="4.8" height="4.8"/><rect x="335.89" y="172.00" width="4.8" height="4.8"/><rect x="338.64" y="172.00" width="4.8" height="4.8"/><rect x="341.39" y="172.00" width="4.8" height="4.8"/><rect x="344.14" y="172.00" width="4.8" height="4.8"/><rect x="346.89" y="172.00" width="4.8" height="4.8"/><rect x="349.64" y="172.00" width="4.8" height="4.8"/><rect x="352.38" y="172.00" width="4.8" height="4.8"/><rect x="355.13" y="172.00" width="4.8" height="4.8"/><rect x="357.88" y="172.00" width="4.8" height="4.8"/><rect x="360.63" y="172.00" width="4.8" height="4.8"/><rect x="363.38" y="172.00" width="4.8" height="4.8"/><rect x="366.13" y="172.00" width="4.8" height="4.8"/><rect x="368.88" y="172.00" width="4.8" height="4.8"/><rect x="371.63" y="172.00" width="4.8" height="4.8"/><rect x="374.38" y="172.00" width="4.8" height="4.8"/><rect x="377.13" y="172.00" width="4.8" height="4.8"/><rect x="379.87" y="172.00" width="4.8" height="4.8"/><rect x="382.62" y="172.00" width="4.8" height="4.8"/><rect x="385.37" y="172.00" width="4.8" height="4.8"/><rect x="388.12" y="172.00" width="4.8" height="4.8"/><rect x="390.87" y="172.00" width="4.8" height="4.8"/><rect x="393.62" y="172.00" width="4.8" height="4.8"/><rect x="396.37" y="172.00" width="4.8" height="4.8"/><rect x="399.12" y="172.00" width="4.8" height="4.8"/><rect x="401.87" y="172.00" width="4.8" height="4.8"/><rect x="404.62" y="172.00" width="4.8" height="4.8"/><rect x="407.36" y="172.00" width="4.8" height="4.8"/><rect x="410.11" y="172.00" width="4.8" height="4.8"/><rect x="412.86" y="139.02" width="4.8" height="4.8"/><rect x="415.61" y="106.04" width="4.8" height="4.8"/><rect x="418.36" y="73.06" width="4.8" height="4.8"/><rect x="421.11" y="40.08" width="4.8" height="4.8"/><rect x="423.86" y="7.10" width="4.8" height="4.8"/><rect x="426.61" y="7.10" width="4.8" height="4.8"/><rect x="429.36" y="7.10" width="4.8" height="4.8"/><rect x="432.11" y="7.10" width="4.8" height="4.8"/><rect x="434.85" y="7.10" width="4.8" height="4.8"/><rect x="437.60" y="7.10" width="4.8" height="4.8"/><rect x="440.35" y="7.10" width="4.8" height="4.8"/><rect x="443.10" y="7.10" width="4.8" height="4.8"/><rect x="445.85" y="7.10" width="4.8" height="4.8"/><rect x="448.60" y="7.10" width="4.8" height="4.8"/><rect x="451.35" y="7.10" width="4.8" height="4.8"/><rect x="454.10" y="7.10" width="4.8" height="4.8"/><rect x="456.85" y="7.10" width="4.8" height="4.8"/><rect x="459.60" y="7.10" width="4.8" height="4.8"/><rect x="462.34" y="7.10" width="4.8" height="4.8"/><rect x="465.09" y="7.10" width="4.8" height="4.8"/><rect x="467.84" y="7.10" width="4.8" height="4.8"/><rect x="470.59" y="7.10" width="4.8" height="4.8"/><rect x="473.34" y="7.10" width="4.8" height="4.8"/><rect x="476.09" y="7.10" width="4.8" height="4.8"/><rect x="478.84" y="7.10" width="4.8" height="4.8"/><rect x="481.59" y="7.10" width="4.8" height="4.8"/><rect x="484.34" y="7.10" width="4.8" height="4.8"/><rect x="487.09" y="7.10" width="4.8" height="4.8"/><rect x="489.83" y="7.10" width="4.8" height="4.8"/><rect x="492.58" y="7.10" width="4.8" height="4.8"/><rect x="495.33" y="7.10" width="4.8" height="4.8"/><rect x="498.08" y="7.10" width="4.8" height="4.8"/><rect x="500.83" y="7.10" width="4.8" height="4.8"/><rect x="503.58" y="7.10" width="4.8" height="4.8"/><rect x="506.33" y="7.10" width="4.8" height="4.8"/><rect x="509.08" y="7.10" width="4.8" height="4.8"/><rect x="511.83" y="7.10" width="4.8" height="4.8"/><rect x="514.58" y="7.10" width="4.8" height="4.8"/><rect x="517.32" y="7.10" width="4.8" height="4.8"/><rect x="520.07" y="7.10" width="4.8" height="4.8"/><rect x="522.82" y="7.10" width="4.8" height="4.8"/><rect x="525.57" y="7.10" width="4.8" height="4.8"/><rect x="528.32" y="7.10" width="4.8" height="4.8"/></g>
<g><rect x="308.35" y="171.51" width="4.9" height="4.9"/><path d="M308.35 173.96H313.25M310.80 171.51V176.41" stroke-width="1.1"/><rect x="311.10" y="171.46" width="4.9" height="4.9"/><path d="M311.10 173.91H316.00M313.55 171.46V176.36" stroke-width="1.1"/><rect x="313.85" y="171.40" width="4.9" height="4.9"/><path d="M313.85 173.85H318.75M316.30 171.40V176.30" stroke-width="1.1"/><rect x="316.60" y="171.33" width="4.9" height="4.9"/><path d="M316.60 173.78H321.50M319.05 171.33V176.23" stroke-width="1.1"/><rect x="319.35" y="171.25" width="4.9" height="4.9"/><path d="M319.35 173.70H324.25M321.80 171.25V176.15" stroke-width="1.1"/><rect x="322.10" y="171.16" width="4.9" height="4.9"/><path d="M322.10 173.61H327.00M324.55 171.16V176.06" stroke-width="1.1"/><rect x="324.84" y="171.06" width="4.9" height="4.9"/><path d="M324.84 173.51H329.74M327.29 171.06V175.96" stroke-width="1.1"/><rect x="327.59" y="170.94" width="4.9" height="4.9"/><path d="M327.59 173.39H332.49M330.04 170.94V175.84" stroke-width="1.1"/><rect x="330.34" y="170.81" width="4.9" height="4.9"/><path d="M330.34 173.26H335.24M332.79 170.81V175.71" stroke-width="1.1"/><rect x="333.09" y="170.65" width="4.9" height="4.9"/><path d="M333.09 173.10H337.99M335.54 170.65V175.55" stroke-width="1.1"/><rect x="335.84" y="170.48" width="4.9" height="4.9"/><path d="M335.84 172.93H340.74M338.29 170.48V175.38" stroke-width="1.1"/><rect x="338.59" y="170.28" width="4.9" height="4.9"/><path d="M338.59 172.73H343.49M341.04 170.28V175.18" stroke-width="1.1"/><rect x="341.34" y="170.04" width="4.9" height="4.9"/><path d="M341.34 172.49H346.24M343.79 170.04V174.94" stroke-width="1.1"/><rect x="344.09" y="169.78" width="4.9" height="4.9"/><path d="M344.09 172.23H348.99M346.54 169.78V174.68" stroke-width="1.1"/><rect x="346.84" y="169.47" width="4.9" height="4.9"/><path d="M346.84 171.92H351.74M349.29 169.47V174.37" stroke-width="1.1"/><rect x="349.59" y="169.11" width="4.9" height="4.9"/><path d="M349.59 171.56H354.49M352.04 169.11V174.01" stroke-width="1.1"/><rect x="352.33" y="168.69" width="4.9" height="4.9"/><path d="M352.33 171.14H357.23M354.78 168.69V173.59" stroke-width="1.1"/><rect x="355.08" y="168.21" width="4.9" height="4.9"/><path d="M355.08 170.66H359.98M357.53 168.21V173.11" stroke-width="1.1"/><rect x="357.83" y="167.66" width="4.9" height="4.9"/><path d="M357.83 170.11H362.73M360.28 167.66V172.56" stroke-width="1.1"/><rect x="360.58" y="167.01" width="4.9" height="4.9"/><path d="M360.58 169.46H365.48M363.03 167.01V171.91" stroke-width="1.1"/><rect x="363.33" y="166.26" width="4.9" height="4.9"/><path d="M363.33 168.71H368.23M365.78 166.26V171.16" stroke-width="1.1"/><rect x="366.08" y="165.38" width="4.9" height="4.9"/><path d="M366.08 167.83H370.98M368.53 165.38V170.28" stroke-width="1.1"/><rect x="368.83" y="164.37" width="4.9" height="4.9"/><path d="M368.83 166.82H373.73M371.28 164.37V169.27" stroke-width="1.1"/><rect x="371.58" y="163.18" width="4.9" height="4.9"/><path d="M371.58 165.63H376.48M374.03 163.18V168.08" stroke-width="1.1"/><rect x="374.33" y="161.81" width="4.9" height="4.9"/><path d="M374.33 164.26H379.23M376.78 161.81V166.71" stroke-width="1.1"/><rect x="377.08" y="160.21" width="4.9" height="4.9"/><path d="M377.08 162.66H381.98M379.53 160.21V165.11" stroke-width="1.1"/><rect x="379.82" y="158.36" width="4.9" height="4.9"/><path d="M379.82 160.81H384.72M382.27 158.36V163.26" stroke-width="1.1"/><rect x="382.57" y="156.20" width="4.9" height="4.9"/><path d="M382.57 158.65H387.47M385.02 156.20V161.10" stroke-width="1.1"/><rect x="385.32" y="153.72" width="4.9" height="4.9"/><path d="M385.32 156.17H390.22M387.77 153.72V158.62" stroke-width="1.1"/><rect x="388.07" y="150.85" width="4.9" height="4.9"/><path d="M388.07 153.30H392.97M390.52 150.85V155.75" stroke-width="1.1"/><rect x="390.82" y="147.55" width="4.9" height="4.9"/><path d="M390.82 150.00H395.72M393.27 147.55V152.45" stroke-width="1.1"/><rect x="393.57" y="143.78" width="4.9" height="4.9"/><path d="M393.57 146.23H398.47M396.02 143.78V148.68" stroke-width="1.1"/><rect x="396.32" y="139.50" width="4.9" height="4.9"/><path d="M396.32 141.95H401.22M398.77 139.50V144.40" stroke-width="1.1"/><rect x="399.07" y="134.66" width="4.9" height="4.9"/><path d="M399.07 137.11H403.97M401.52 134.66V139.56" stroke-width="1.1"/><rect x="401.82" y="129.26" width="4.9" height="4.9"/><path d="M401.82 131.71H406.72M404.27 129.26V134.16" stroke-width="1.1"/><rect x="404.56" y="123.28" width="4.9" height="4.9"/><path d="M404.56 125.73H409.46M407.01 123.28V128.18" stroke-width="1.1"/><rect x="407.31" y="116.74" width="4.9" height="4.9"/><path d="M407.31 119.19H412.21M409.76 116.74V121.64" stroke-width="1.1"/><rect x="410.06" y="109.68" width="4.9" height="4.9"/><path d="M410.06 112.13H414.96M412.51 109.68V114.58" stroke-width="1.1"/><rect x="412.81" y="102.17" width="4.9" height="4.9"/><path d="M412.81 104.62H417.71M415.26 102.17V107.07" stroke-width="1.1"/><rect x="415.56" y="94.32" width="4.9" height="4.9"/><path d="M415.56 96.77H420.46M418.01 94.32V99.22" stroke-width="1.1"/><rect x="418.31" y="86.53" width="4.9" height="4.9"/><path d="M418.31 88.98H423.21M420.76 86.53V91.43" stroke-width="1.1"/><rect x="421.06" y="79.16" width="4.9" height="4.9"/><path d="M421.06 81.61H425.96M423.51 79.16V84.06" stroke-width="1.1"/><rect x="423.81" y="71.95" width="4.9" height="4.9"/><path d="M423.81 74.40H428.71M426.26 71.95V76.85" stroke-width="1.1"/><rect x="426.56" y="65.01" width="4.9" height="4.9"/><path d="M426.56 67.46H431.46M429.01 65.01V69.91" stroke-width="1.1"/><rect x="429.31" y="58.43" width="4.9" height="4.9"/><path d="M429.31 60.88H434.21M431.76 58.43V63.33" stroke-width="1.1"/><rect x="432.06" y="52.28" width="4.9" height="4.9"/><path d="M432.06 54.73H436.95M434.50 52.28V57.18" stroke-width="1.1"/><rect x="434.80" y="46.61" width="4.9" height="4.9"/><path d="M434.80 49.06H439.70M437.25 46.61V51.51" stroke-width="1.1"/><rect x="437.55" y="41.45" width="4.9" height="4.9"/><path d="M437.55 43.90H442.45M440.00 41.45V46.35" stroke-width="1.1"/><rect x="440.30" y="36.80" width="4.9" height="4.9"/><path d="M440.30 39.25H445.20M442.75 36.80V41.70" stroke-width="1.1"/><rect x="443.05" y="32.66" width="4.9" height="4.9"/><path d="M443.05 35.11H447.95M445.50 32.66V37.56" stroke-width="1.1"/><rect x="445.80" y="29.00" width="4.9" height="4.9"/><path d="M445.80 31.45H450.70M448.25 29.00V33.90" stroke-width="1.1"/><rect x="448.55" y="25.79" width="4.9" height="4.9"/><path d="M448.55 28.24H453.45M451.00 25.79V30.69" stroke-width="1.1"/><rect x="451.30" y="23.00" width="4.9" height="4.9"/><path d="M451.30 25.45H456.20M453.75 23.00V27.90" stroke-width="1.1"/><rect x="454.05" y="20.59" width="4.9" height="4.9"/><path d="M454.05 23.04H458.95M456.50 20.59V25.49" stroke-width="1.1"/><rect x="456.80" y="18.51" width="4.9" height="4.9"/><path d="M456.80 20.96H461.70M459.25 18.51V23.41" stroke-width="1.1"/><rect x="459.55" y="16.73" width="4.9" height="4.9"/><path d="M459.55 19.18H464.44M462.00 16.73V21.63" stroke-width="1.1"/><rect x="462.29" y="15.21" width="4.9" height="4.9"/><path d="M462.29 17.66H467.19M464.74 15.21V20.11" stroke-width="1.1"/><rect x="465.04" y="13.92" width="4.9" height="4.9"/><path d="M465.04 16.37H469.94M467.49 13.92V18.82" stroke-width="1.1"/><rect x="467.79" y="12.83" width="4.9" height="4.9"/><path d="M467.79 15.28H472.69M470.24 12.83V17.73" stroke-width="1.1"/><rect x="470.54" y="11.90" width="4.9" height="4.9"/><path d="M470.54 14.35H475.44M472.99 11.90V16.80" stroke-width="1.1"/><rect x="473.29" y="11.12" width="4.9" height="4.9"/><path d="M473.29 13.57H478.19M475.74 11.12V16.02" stroke-width="1.1"/><rect x="476.04" y="10.47" width="4.9" height="4.9"/><path d="M476.04 12.92H480.94M478.49 10.47V15.37" stroke-width="1.1"/><rect x="478.79" y="9.91" width="4.9" height="4.9"/><path d="M478.79 12.36H483.69M481.24 9.91V14.81" stroke-width="1.1"/><rect x="481.54" y="9.45" width="4.9" height="4.9"/><path d="M481.54 11.90H486.44M483.99 9.45V14.35" stroke-width="1.1"/><rect x="484.29" y="9.06" width="4.9" height="4.9"/><path d="M484.29 11.51H489.19M486.74 9.06V13.96" stroke-width="1.1"/><rect x="487.04" y="8.73" width="4.9" height="4.9"/><path d="M487.04 11.18H491.94M489.49 8.73V13.63" stroke-width="1.1"/><rect x="489.78" y="8.45" width="4.9" height="4.9"/><path d="M489.78 10.90H494.68M492.23 8.45V13.35" stroke-width="1.1"/><rect x="492.53" y="8.22" width="4.9" height="4.9"/><path d="M492.53 10.67H497.43M494.98 8.22V13.12" stroke-width="1.1"/><rect x="495.28" y="8.03" width="4.9" height="4.9"/><path d="M495.28 10.48H500.18M497.73 8.03V12.93" stroke-width="1.1"/><rect x="498.03" y="7.87" width="4.9" height="4.9"/><path d="M498.03 10.32H502.93M500.48 7.87V12.77" stroke-width="1.1"/><rect x="500.78" y="7.74" width="4.9" height="4.9"/><path d="M500.78 10.19H505.68M503.23 7.74V12.64" stroke-width="1.1"/><rect x="503.53" y="7.62" width="4.9" height="4.9"/><path d="M503.53 10.07H508.43M505.98 7.62V12.52" stroke-width="1.1"/><rect x="506.28" y="7.53" width="4.9" height="4.9"/><path d="M506.28 9.98H511.18M508.73 7.53V12.43" stroke-width="1.1"/><rect x="509.03" y="7.45" width="4.9" height="4.9"/><path d="M509.03 9.90H513.93M511.48 7.45V12.35" stroke-width="1.1"/><rect x="511.78" y="7.38" width="4.9" height="4.9"/><path d="M511.78 9.83H516.68M514.23 7.38V12.28" stroke-width="1.1"/><rect x="514.52" y="7.33" width="4.9" height="4.9"/><path d="M514.52 9.78H519.43M516.98 7.33V12.23" stroke-width="1.1"/><rect x="517.27" y="7.28" width="4.9" height="4.9"/><path d="M517.27 9.73H522.17M519.72 7.28V12.18" stroke-width="1.1"/><rect x="520.02" y="7.25" width="4.9" height="4.9"/><path d="M520.02 9.70H524.92M522.47 7.25V12.15" stroke-width="1.1"/><rect x="522.77" y="7.21" width="4.9" height="4.9"/><path d="M522.77 9.66H527.67M525.22 7.21V12.11" stroke-width="1.1"/><rect x="525.52" y="7.19" width="4.9" height="4.9"/><path d="M525.52 9.64H530.42M527.97 7.19V12.09" stroke-width="1.1"/><rect x="528.27" y="7.16" width="4.9" height="4.9"/><path d="M528.27 9.61H533.17M530.72 7.16V12.06" stroke-width="1.1"/></g>
<g><path d="M308.30 176.32L310.80 171.47L313.30 176.32Z" stroke-linejoin="round"/><path d="M311.05 176.27L313.55 171.42L316.05 176.27Z" stroke-linejoin="round"/><path d="M313.80 176.22L316.30 171.37L318.80 176.22Z" stroke-linejoin="round"/><path d="M316.55 176.17L319.05 171.32L321.55 176.17Z" stroke-linejoin="round"/><path d="M319.30 176.10L321.80 171.25L324.30 176.10Z" stroke-linejoin="round"/><path d="M322.05 176.02L324.55 171.17L327.05 176.02Z" stroke-linejoin="round"/><path d="M324.79 175.94L327.29 171.09L329.79 175.94Z" stroke-linejoin="round"/><path d="M327.54 175.84L330.04 170.99L332.54 175.84Z" stroke-linejoin="round"/><path d="M330.29 175.72L332.79 170.87L335.29 175.72Z" stroke-linejoin="round"/><path d="M333.04 175.59L335.54 170.74L338.04 175.59Z" stroke-linejoin="round"/><path d="M335.79 175.44L338.29 170.59L340.79 175.44Z" stroke-linejoin="round"/><path d="M338.54 175.26L341.04 170.41L343.54 175.26Z" stroke-linejoin="round"/><path d="M341.29 175.05L343.79 170.20L346.29 175.05Z" stroke-linejoin="round"/><path d="M344.04 174.81L346.54 169.96L349.04 174.81Z" stroke-linejoin="round"/><path d="M346.79 174.53L349.29 169.68L351.79 174.53Z" stroke-linejoin="round"/><path d="M349.54 174.21L352.04 169.36L354.54 174.21Z" stroke-linejoin="round"/><path d="M352.28 173.83L354.78 168.98L357.28 173.83Z" stroke-linejoin="round"/><path d="M355.03 173.39L357.53 168.54L360.03 173.39Z" stroke-linejoin="round"/><path d="M357.78 172.87L360.28 168.02L362.78 172.87Z" stroke-linejoin="round"/><path d="M360.53 172.27L363.03 167.42L365.53 172.27Z" stroke-linejoin="round"/><path d="M363.28 171.56L365.78 166.71L368.28 171.56Z" stroke-linejoin="round"/><path d="M366.03 170.74L368.53 165.89L371.03 170.74Z" stroke-linejoin="round"/><path d="M368.78 169.77L371.28 164.92L373.78 169.77Z" stroke-linejoin="round"/><path d="M371.53 168.64L374.03 163.79L376.53 168.64Z" stroke-linejoin="round"/><path d="M374.28 167.31L376.78 162.46L379.28 167.31Z" stroke-linejoin="round"/><path d="M377.03 165.76L379.53 160.91L382.03 165.76Z" stroke-linejoin="round"/><path d="M379.77 163.95L382.27 159.10L384.77 163.95Z" stroke-linejoin="round"/><path d="M382.52 161.84L385.02 156.99L387.52 161.84Z" stroke-linejoin="round"/><path d="M385.27 159.38L387.77 154.53L390.27 159.38Z" stroke-linejoin="round"/><path d="M388.02 156.53L390.52 151.68L393.02 156.53Z" stroke-linejoin="round"/><path d="M390.77 153.24L393.27 148.39L395.77 153.24Z" stroke-linejoin="round"/><path d="M393.52 149.46L396.02 144.61L398.52 149.46Z" stroke-linejoin="round"/><path d="M396.27 145.15L398.77 140.30L401.27 145.15Z" stroke-linejoin="round"/><path d="M399.02 140.26L401.52 135.41L404.02 140.26Z" stroke-linejoin="round"/><path d="M401.77 134.78L404.27 129.93L406.77 134.78Z" stroke-linejoin="round"/><path d="M404.51 128.69L407.01 123.84L409.51 128.69Z" stroke-linejoin="round"/><path d="M407.26 122.02L409.76 117.17L412.26 122.02Z" stroke-linejoin="round"/><path d="M410.01 114.81L412.51 109.96L415.01 114.81Z" stroke-linejoin="round"/><path d="M412.76 107.14L415.26 102.29L417.76 107.14Z" stroke-linejoin="round"/><path d="M415.51 99.12L418.01 94.27L420.51 99.12Z" stroke-linejoin="round"/><path d="M418.26 91.15L420.76 86.30L423.26 91.15Z" stroke-linejoin="round"/><path d="M421.01 83.57L423.51 78.72L426.01 83.57Z" stroke-linejoin="round"/><path d="M423.76 76.17L426.26 71.32L428.76 76.17Z" stroke-linejoin="round"/><path d="M426.51 69.07L429.01 64.22L431.51 69.07Z" stroke-linejoin="round"/><path d="M429.26 62.35L431.76 57.50L434.26 62.35Z" stroke-linejoin="round"/><path d="M432.00 56.10L434.50 51.25L437.00 56.10Z" stroke-linejoin="round"/><path d="M434.75 50.36L437.25 45.51L439.75 50.36Z" stroke-linejoin="round"/><path d="M437.50 45.15L440.00 40.30L442.50 45.15Z" stroke-linejoin="round"/><path d="M440.25 40.49L442.75 35.64L445.25 40.49Z" stroke-linejoin="round"/><path d="M443.00 36.36L445.50 31.51L448.00 36.36Z" stroke-linejoin="round"/><path d="M445.75 32.73L448.25 27.88L450.75 32.73Z" stroke-linejoin="round"/><path d="M448.50 29.56L451.00 24.71L453.50 29.56Z" stroke-linejoin="round"/><path d="M451.25 26.83L453.75 21.98L456.25 26.83Z" stroke-linejoin="round"/><path d="M454.00 24.47L456.50 19.62L459.00 24.47Z" stroke-linejoin="round"/><path d="M456.75 22.46L459.25 17.61L461.75 22.46Z" stroke-linejoin="round"/><path d="M459.50 20.75L462.00 15.90L464.50 20.75Z" stroke-linejoin="round"/><path d="M462.24 19.30L464.74 14.45L467.24 19.30Z" stroke-linejoin="round"/><path d="M464.99 18.07L467.49 13.22L469.99 18.07Z" stroke-linejoin="round"/><path d="M467.74 17.04L470.24 12.19L472.74 17.04Z" stroke-linejoin="round"/><path d="M470.49 16.17L472.99 11.32L475.49 16.17Z" stroke-linejoin="round"/><path d="M473.24 15.44L475.74 10.59L478.24 15.44Z" stroke-linejoin="round"/><path d="M475.99 14.83L478.49 9.98L480.99 14.83Z" stroke-linejoin="round"/><path d="M478.74 14.31L481.24 9.46L483.74 14.31Z" stroke-linejoin="round"/><path d="M481.49 13.89L483.99 9.04L486.49 13.89Z" stroke-linejoin="round"/><path d="M484.24 13.53L486.74 8.68L489.24 13.53Z" stroke-linejoin="round"/><path d="M486.99 13.23L489.49 8.38L491.99 13.23Z" stroke-linejoin="round"/><path d="M489.73 12.98L492.23 8.13L494.73 12.98Z" stroke-linejoin="round"/><path d="M492.48 12.78L494.98 7.93L497.48 12.78Z" stroke-linejoin="round"/><path d="M495.23 12.60L497.73 7.75L500.23 12.60Z" stroke-linejoin="round"/><path d="M497.98 12.46L500.48 7.61L502.98 12.46Z" stroke-linejoin="round"/><path d="M500.73 12.34L503.23 7.49L505.73 12.34Z" stroke-linejoin="round"/><path d="M503.48 12.24L505.98 7.39L508.48 12.24Z" stroke-linejoin="round"/><path d="M506.23 12.16L508.73 7.31L511.23 12.16Z" stroke-linejoin="round"/><path d="M508.98 12.09L511.48 7.24L513.98 12.09Z" stroke-linejoin="round"/><path d="M511.73 12.03L514.23 7.18L516.73 12.03Z" stroke-linejoin="round"/><path d="M514.48 11.98L516.98 7.13L519.48 11.98Z" stroke-linejoin="round"/><path d="M517.22 11.94L519.72 7.09L522.22 11.94Z" stroke-linejoin="round"/><path d="M519.97 11.91L522.47 7.06L524.97 11.91Z" stroke-linejoin="round"/><path d="M522.72 11.88L525.22 7.03L527.72 11.88Z" stroke-linejoin="round"/><path d="M525.47 11.86L527.97 7.01L530.47 11.86Z" stroke-linejoin="round"/><path d="M528.22 11.84L530.72 6.99L533.22 11.84Z" stroke-linejoin="round"/></g>
<g><circle cx="310.80" cy="174.38" r="2.5"/><circle cx="313.55" cy="174.38" r="2.5"/><circle cx="316.30" cy="174.37" r="2.5"/><circle cx="319.05" cy="174.36" r="2.5"/><circle cx="321.80" cy="174.35" r="2.5"/><circle cx="324.55" cy="174.34" r="2.5"/><circle cx="327.29" cy="174.33" r="2.5"/><circle cx="330.04" cy="174.31" r="2.5"/><circle cx="332.79" cy="174.29" r="2.5"/><circle cx="335.54" cy="174.26" r="2.5"/><circle cx="338.29" cy="174.22" r="2.5"/><circle cx="341.04" cy="174.18" r="2.5"/><circle cx="343.79" cy="174.12" r="2.5"/><circle cx="346.54" cy="174.05" r="2.5"/><circle cx="349.29" cy="173.96" r="2.5"/><circle cx="352.04" cy="173.85" r="2.5"/><circle cx="354.78" cy="173.71" r="2.5"/><circle cx="357.53" cy="173.53" r="2.5"/><circle cx="360.28" cy="173.31" r="2.5"/><circle cx="363.03" cy="173.04" r="2.5"/><circle cx="365.78" cy="172.69" r="2.5"/><circle cx="368.53" cy="172.26" r="2.5"/><circle cx="371.28" cy="171.72" r="2.5"/><circle cx="374.03" cy="171.04" r="2.5"/><circle cx="376.78" cy="170.19" r="2.5"/><circle cx="379.53" cy="169.14" r="2.5"/><circle cx="382.27" cy="167.83" r="2.5"/><circle cx="385.02" cy="166.20" r="2.5"/><circle cx="387.77" cy="164.20" r="2.5"/><circle cx="390.52" cy="161.74" r="2.5"/><circle cx="393.27" cy="158.74" r="2.5"/><circle cx="396.02" cy="155.11" r="2.5"/><circle cx="398.77" cy="150.77" r="2.5"/><circle cx="401.52" cy="145.63" r="2.5"/><circle cx="404.27" cy="139.64" r="2.5"/><circle cx="407.01" cy="132.76" r="2.5"/><circle cx="409.76" cy="125.03" r="2.5"/><circle cx="412.51" cy="116.52" r="2.5"/><circle cx="415.26" cy="107.37" r="2.5"/><circle cx="418.01" cy="97.80" r="2.5"/><circle cx="420.76" cy="88.41" r="2.5"/><circle cx="423.51" cy="79.63" r="2.5"/><circle cx="426.26" cy="71.13" r="2.5"/><circle cx="429.01" cy="63.08" r="2.5"/><circle cx="431.76" cy="55.61" r="2.5"/><circle cx="434.50" cy="48.82" r="2.5"/><circle cx="437.25" cy="42.74" r="2.5"/><circle cx="440.00" cy="37.40" r="2.5"/><circle cx="442.75" cy="32.76" r="2.5"/><circle cx="445.50" cy="28.79" r="2.5"/><circle cx="448.25" cy="25.42" r="2.5"/><circle cx="451.00" cy="22.58" r="2.5"/><circle cx="453.75" cy="20.21" r="2.5"/><circle cx="456.50" cy="18.25" r="2.5"/><circle cx="459.25" cy="16.63" r="2.5"/><circle cx="462.00" cy="15.30" r="2.5"/><circle cx="464.74" cy="14.21" r="2.5"/><circle cx="467.49" cy="13.32" r="2.5"/><circle cx="470.24" cy="12.59" r="2.5"/><circle cx="472.99" cy="12.00" r="2.5"/><circle cx="475.74" cy="11.53" r="2.5"/><circle cx="478.49" cy="11.14" r="2.5"/><circle cx="481.24" cy="10.82" r="2.5"/><circle cx="483.99" cy="10.57" r="2.5"/><circle cx="486.74" cy="10.36" r="2.5"/><circle cx="489.49" cy="10.20" r="2.5"/><circle cx="492.23" cy="10.06" r="2.5"/><circle cx="494.98" cy="9.95" r="2.5"/><circle cx="497.73" cy="9.87" r="2.5"/><circle cx="500.48" cy="9.80" r="2.5"/><circle cx="503.23" cy="9.74" r="2.5"/><circle cx="505.98" cy="9.69" r="2.5"/><circle cx="508.73" cy="9.66" r="2.5"/><circle cx="511.48" cy="9.63" r="2.5"/><circle cx="514.23" cy="9.60" r="2.5"/><circle cx="516.98" cy="9.58" r="2.5"/><circle cx="519.72" cy="9.57" r="2.5"/><circle cx="522.47" cy="9.55" r="2.5"/><circle cx="525.22" cy="9.54" r="2.5"/><circle cx="527.97" cy="9.53" r="2.5"/><circle cx="530.72" cy="9.53" r="2.5"/></g>
<g><rect x="43.50" y="298.80" width="4.8" height="4.8"/><rect x="46.25" y="299.30" width="4.8" height="4.8"/><rect x="49.00" y="299.47" width="4.8" height="4.8"/><rect x="51.75" y="299.63" width="4.8" height="4.8"/><rect x="54.50" y="299.63" width="4.8" height="4.8"/><rect x="57.24" y="299.96" width="4.8" height="4.8"/><rect x="59.99" y="299.80" width="4.8" height="4.8"/><rect x="62.74" y="300.95" width="4.8" height="4.8"/><rect x="65.49" y="299.47" width="4.8" height="4.8"/><rect x="68.24" y="299.63" width="4.8" height="4.8"/><rect x="70.99" y="301.62" width="4.8" height="4.8"/><rect x="73.74" y="301.12" width="4.8" height="4.8"/><rect x="76.49" y="300.13" width="4.8" height="4.8"/><rect x="79.24" y="299.30" width="4.8" height="4.8"/><rect x="81.99" y="298.80" width="4.8" height="4.8"/><rect x="84.73" y="298.31" width="4.8" height="4.8"/><rect x="87.48" y="298.97" width="4.8" height="4.8"/><rect x="90.23" y="301.95" width="4.8" height="4.8"/><rect x="92.98" y="302.28" width="4.8" height="4.8"/><rect x="95.73" y="301.45" width="4.8" height="4.8"/><rect x="98.48" y="300.46" width="4.8" height="4.8"/><rect x="101.23" y="299.80" width="4.8" height="4.8"/><rect x="103.98" y="299.30" width="4.8" height="4.8"/><rect x="106.73" y="298.80" width="4.8" height="4.8"/><rect x="109.48" y="299.47" width="4.8" height="4.8"/><rect x="112.22" y="301.78" width="4.8" height="4.8"/><rect x="114.97" y="301.95" width="4.8" height="4.8"/><rect x="117.72" y="300.13" width="4.8" height="4.8"/><rect x="120.47" y="302.77" width="4.8" height="4.8"/><rect x="123.22" y="303.27" width="4.8" height="4.8"/><rect x="125.97" y="298.31" width="4.8" height="4.8"/><rect x="128.72" y="300.13" width="4.8" height="4.8"/><rect x="131.47" y="299.63" width="4.8" height="4.8"/><rect x="134.22" y="300.95" width="4.8" height="4.8"/><rect x="136.97" y="302.77" width="4.8" height="4.8"/><rect x="139.72" y="303.60" width="4.8" height="4.8"/><rect x="142.46" y="302.77" width="4.8" height="4.8"/><rect x="145.21" y="301.95" width="4.8" height="4.8"/><rect x="147.96" y="300.95" width="4.8" height="4.8"/><rect x="150.71" y="300.13" width="4.8" height="4.8"/><rect x="153.46" y="300.95" width="4.8" height="4.8"/><rect x="156.21" y="300.95" width="4.8" height="4.8"/><rect x="158.96" y="300.29" width="4.8" height="4.8"/><rect x="161.71" y="299.80" width="4.8" height="4.8"/><rect x="164.46" y="299.30" width="4.8" height="4.8"/><rect x="167.20" y="299.30" width="4.8" height="4.8"/><rect x="169.95" y="299.80" width="4.8" height="4.8"/><rect x="172.70" y="302.44" width="4.8" height="4.8"/><rect x="175.45" y="304.76" width="4.8" height="4.8"/><rect x="178.20" y="305.42" width="4.8" height="4.8"/><rect x="180.95" y="305.75" width="4.8" height="4.8"/><rect x="183.70" y="305.75" width="4.8" height="4.8"/><rect x="186.45" y="305.42" width="4.8" height="4.8"/><rect x="189.20" y="304.26" width="4.8" height="4.8"/><rect x="191.95" y="300.29" width="4.8" height="4.8"/><rect x="194.69" y="299.80" width="4.8" height="4.8"/><rect x="197.44" y="299.30" width="4.8" height="4.8"/><rect x="200.19" y="300.95" width="4.8" height="4.8"/><rect x="202.94" y="303.10" width="4.8" height="4.8"/><rect x="205.69" y="304.26" width="4.8" height="4.8"/><rect x="208.44" y="304.76" width="4.8" height="4.8"/><rect x="211.19" y="304.26" width="4.8" height="4.8"/><rect x="213.94" y="300.95" width="4.8" height="4.8"/><rect x="216.69" y="298.64" width="4.8" height="4.8"/><rect x="219.44" y="297.65" width="4.8" height="4.8"/><rect x="222.19" y="297.65" width="4.8" height="4.8"/><rect x="224.93" y="297.65" width="4.8" height="4.8"/><rect x="227.68" y="298.64" width="4.8" height="4.8"/><rect x="230.43" y="299.30" width="4.8" height="4.8"/><rect x="233.18" y="299.80" width="4.8" height="4.8"/><rect x="235.93" y="299.13" width="4.8" height="4.8"/><rect x="238.68" y="299.13" width="4.8" height="4.8"/><rect x="241.43" y="299.30" width="4.8" height="4.8"/><rect x="244.18" y="299.30" width="4.8" height="4.8"/><rect x="246.93" y="299.30" width="4.8" height="4.8"/><rect x="249.68" y="299.30" width="4.8" height="4.8"/><rect x="252.42" y="299.13" width="4.8" height="4.8"/><rect x="255.17" y="298.64" width="4.8" height="4.8"/><rect x="257.92" y="298.64" width="4.8" height="4.8"/><rect x="260.67" y="299.13" width="4.8" height="4.8"/><rect x="263.42" y="299.30" width="4.8" height="4.8"/></g>
<g><rect x="43.45" y="381.45" width="4.9" height="4.9"/><path d="M43.45 383.90H48.35M45.90 381.45V386.35" stroke-width="1.1"/><rect x="46.20" y="381.45" width="4.9" height="4.9"/><path d="M46.20 383.90H51.10M48.65 381.45V386.35" stroke-width="1.1"/><rect x="48.95" y="381.45" width="4.9" height="4.9"/><path d="M48.95 383.90H53.85M51.40 381.45V386.35" stroke-width="1.1"/><rect x="51.70" y="381.45" width="4.9" height="4.9"/><path d="M51.70 383.90H56.60M54.15 381.45V386.35" stroke-width="1.1"/><rect x="54.45" y="381.45" width="4.9" height="4.9"/><path d="M54.45 383.90H59.35M56.90 381.45V386.35" stroke-width="1.1"/><rect x="57.19" y="381.45" width="4.9" height="4.9"/><path d="M57.19 383.90H62.09M59.64 381.45V386.35" stroke-width="1.1"/><rect x="59.94" y="381.45" width="4.9" height="4.9"/><path d="M59.94 383.90H64.84M62.39 381.45V386.35" stroke-width="1.1"/><rect x="62.69" y="381.45" width="4.9" height="4.9"/><path d="M62.69 383.90H67.59M65.14 381.45V386.35" stroke-width="1.1"/><rect x="65.44" y="381.45" width="4.9" height="4.9"/><path d="M65.44 383.90H70.34M67.89 381.45V386.35" stroke-width="1.1"/><rect x="68.19" y="381.45" width="4.9" height="4.9"/><path d="M68.19 383.90H73.09M70.64 381.45V386.35" stroke-width="1.1"/><rect x="70.94" y="381.45" width="4.9" height="4.9"/><path d="M70.94 383.90H75.84M73.39 381.45V386.35" stroke-width="1.1"/><rect x="73.69" y="381.45" width="4.9" height="4.9"/><path d="M73.69 383.90H78.59M76.14 381.45V386.35" stroke-width="1.1"/><rect x="76.44" y="381.45" width="4.9" height="4.9"/><path d="M76.44 383.90H81.34M78.89 381.45V386.35" stroke-width="1.1"/><rect x="79.19" y="381.29" width="4.9" height="4.9"/><path d="M79.19 383.74H84.09M81.64 381.29V386.19" stroke-width="1.1"/><rect x="81.94" y="381.12" width="4.9" height="4.9"/><path d="M81.94 383.57H86.84M84.39 381.12V386.02" stroke-width="1.1"/><rect x="84.68" y="380.86" width="4.9" height="4.9"/><path d="M84.68 383.31H89.58M87.13 380.86V385.76" stroke-width="1.1"/><rect x="87.43" y="380.63" width="4.9" height="4.9"/><path d="M87.43 383.08H92.33M89.88 380.63V385.53" stroke-width="1.1"/><rect x="90.18" y="380.38" width="4.9" height="4.9"/><path d="M90.18 382.83H95.08M92.63 380.38V385.28" stroke-width="1.1"/><rect x="92.93" y="380.13" width="4.9" height="4.9"/><path d="M92.93 382.58H97.83M95.38 380.13V385.03" stroke-width="1.1"/><rect x="95.68" y="379.88" width="4.9" height="4.9"/><path d="M95.68 382.33H100.58M98.13 379.88V384.78" stroke-width="1.1"/><rect x="98.43" y="379.55" width="4.9" height="4.9"/><path d="M98.43 382.00H103.33M100.88 379.55V384.45" stroke-width="1.1"/><rect x="101.18" y="378.97" width="4.9" height="4.9"/><path d="M101.18 381.42H106.08M103.63 378.97V383.87" stroke-width="1.1"/><rect x="103.93" y="378.31" width="4.9" height="4.9"/><path d="M103.93 380.76H108.83M106.38 378.31V383.21" stroke-width="1.1"/><rect x="106.68" y="377.15" width="4.9" height="4.9"/><path d="M106.68 379.60H111.58M109.13 377.15V382.05" stroke-width="1.1"/><rect x="109.43" y="376.00" width="4.9" height="4.9"/><path d="M109.43 378.45H114.33M111.88 376.00V380.90" stroke-width="1.1"/><rect x="112.17" y="375.00" width="4.9" height="4.9"/><path d="M112.17 377.45H117.08M114.62 375.00V379.90" stroke-width="1.1"/><rect x="114.92" y="373.51" width="4.9" height="4.9"/><path d="M114.92 375.96H119.82M117.37 373.51V378.41" stroke-width="1.1"/><rect x="117.67" y="371.53" width="4.9" height="4.9"/><path d="M117.67 373.98H122.57M120.12 371.53V376.43" stroke-width="1.1"/><rect x="120.42" y="368.88" width="4.9" height="4.9"/><path d="M120.42 371.33H125.32M122.87 368.88V373.78" stroke-width="1.1"/><rect x="123.17" y="365.41" width="4.9" height="4.9"/><path d="M123.17 367.86H128.07M125.62 365.41V370.31" stroke-width="1.1"/><rect x="125.92" y="360.94" width="4.9" height="4.9"/><path d="M125.92 363.39H130.82M128.37 360.94V365.84" stroke-width="1.1"/><rect x="128.67" y="356.48" width="4.9" height="4.9"/><path d="M128.67 358.93H133.57M131.12 356.48V361.38" stroke-width="1.1"/><rect x="131.42" y="351.19" width="4.9" height="4.9"/><path d="M131.42 353.64H136.32M133.87 351.19V356.09" stroke-width="1.1"/><rect x="134.17" y="345.07" width="4.9" height="4.9"/><path d="M134.17 347.52H139.07M136.62 345.07V349.97" stroke-width="1.1"/><rect x="136.92" y="338.95" width="4.9" height="4.9"/><path d="M136.92 341.40H141.82M139.37 338.95V343.85" stroke-width="1.1"/><rect x="139.67" y="332.33" width="4.9" height="4.9"/><path d="M139.67 334.78H144.56M142.12 332.33V337.23" stroke-width="1.1"/><rect x="142.41" y="324.89" width="4.9" height="4.9"/><path d="M142.41 327.34H147.31M144.86 324.89V329.79" stroke-width="1.1"/><rect x="145.16" y="316.62" width="4.9" height="4.9"/><path d="M145.16 319.07H150.06M147.61 316.62V321.52" stroke-width="1.1"/><rect x="147.91" y="308.35" width="4.9" height="4.9"/><path d="M147.91 310.80H152.81M150.36 308.35V313.25" stroke-width="1.1"/><rect x="150.66" y="299.25" width="4.9" height="4.9"/><path d="M150.66 301.70H155.56M153.11 299.25V304.15" stroke-width="1.1"/><rect x="153.41" y="288.50" width="4.9" height="4.9"/><path d="M153.41 290.95H158.31M155.86 288.50V293.40" stroke-width="1.1"/><rect x="156.16" y="277.75" width="4.9" height="4.9"/><path d="M156.16 280.20H161.06M158.61 277.75V282.65" stroke-width="1.1"/><rect x="158.91" y="268.65" width="4.9" height="4.9"/><path d="M158.91 271.10H163.81M161.36 268.65V273.55" stroke-width="1.1"/><rect x="161.66" y="261.21" width="4.9" height="4.9"/><path d="M161.66 263.66H166.56M164.11 261.21V266.11" stroke-width="1.1"/><rect x="164.41" y="254.26" width="4.9" height="4.9"/><path d="M164.41 256.71H169.31M166.86 254.26V259.16" stroke-width="1.1"/><rect x="167.16" y="248.64" width="4.9" height="4.9"/><path d="M167.16 251.09H172.05M169.60 248.64V253.54" stroke-width="1.1"/><rect x="169.90" y="244.67" width="4.9" height="4.9"/><path d="M169.90 247.12H174.80M172.35 244.67V249.57" stroke-width="1.1"/><rect x="172.65" y="241.53" width="4.9" height="4.9"/><path d="M172.65 243.98H177.55M175.10 241.53V246.43" stroke-width="1.1"/><rect x="175.40" y="238.88" width="4.9" height="4.9"/><path d="M175.40 241.33H180.30M177.85 238.88V243.78" stroke-width="1.1"/><rect x="178.15" y="236.23" width="4.9" height="4.9"/><path d="M178.15 238.68H183.05M180.60 236.23V241.13" stroke-width="1.1"/><rect x="180.90" y="233.59" width="4.9" height="4.9"/><path d="M180.90 236.04H185.80M183.35 233.59V238.49" stroke-width="1.1"/><rect x="183.65" y="230.77" width="4.9" height="4.9"/><path d="M183.65 233.22H188.55M186.10 230.77V235.67" stroke-width="1.1"/><rect x="186.40" y="228.62" width="4.9" height="4.9"/><path d="M186.40 231.07H191.30M188.85 228.62V233.52" stroke-width="1.1"/><rect x="189.15" y="226.97" width="4.9" height="4.9"/><path d="M189.15 229.42H194.05M191.60 226.97V231.87" stroke-width="1.1"/><rect x="191.90" y="225.65" width="4.9" height="4.9"/><path d="M191.90 228.10H196.80M194.35 225.65V230.55" stroke-width="1.1"/><rect x="194.65" y="224.32" width="4.9" height="4.9"/><path d="M194.65 226.77H199.54M197.09 224.32V229.22" stroke-width="1.1"/><rect x="197.39" y="223.33" width="4.9" height="4.9"/><path d="M197.39 225.78H202.29M199.84 223.33V228.23" stroke-width="1.1"/><rect x="200.14" y="222.67" width="4.9" height="4.9"/><path d="M200.14 225.12H205.04M202.59 222.67V227.57" stroke-width="1.1"/><rect x="202.89" y="222.17" width="4.9" height="4.9"/><path d="M202.89 224.62H207.79M205.34 222.17V227.07" stroke-width="1.1"/><rect x="205.64" y="221.89" width="4.9" height="4.9"/><path d="M205.64 224.34H210.54M208.09 221.89V226.79" stroke-width="1.1"/><rect x="208.39" y="221.68" width="4.9" height="4.9"/><path d="M208.39 224.13H213.29M210.84 221.68V226.58" stroke-width="1.1"/><rect x="211.14" y="221.51" width="4.9" height="4.9"/><path d="M211.14 223.96H216.04M213.59 221.51V226.41" stroke-width="1.1"/><rect x="213.89" y="221.35" width="4.9" height="4.9"/><path d="M213.89 223.80H218.79M216.34 221.35V226.25" stroke-width="1.1"/><rect x="216.64" y="221.15" width="4.9" height="4.9"/><path d="M216.64 223.60H221.54M219.09 221.15V226.05" stroke-width="1.1"/><rect x="219.39" y="220.93" width="4.9" height="4.9"/><path d="M219.39 223.38H224.29M221.84 220.93V225.83" stroke-width="1.1"/><rect x="222.14" y="220.68" width="4.9" height="4.9"/><path d="M222.14 223.13H227.03M224.59 220.68V225.58" stroke-width="1.1"/><rect x="224.88" y="220.34" width="4.9" height="4.9"/><path d="M224.88 222.79H229.78M227.33 220.34V225.24" stroke-width="1.1"/><rect x="227.63" y="220.02" width="4.9" height="4.9"/><path d="M227.63 222.47H232.53M230.08 220.02V224.92" stroke-width="1.1"/><rect x="230.38" y="219.83" width="4.9" height="4.9"/><path d="M230.38 222.28H235.28M232.83 219.83V224.73" stroke-width="1.1"/><rect x="233.13" y="219.68" width="4.9" height="4.9"/><path d="M233.13 222.13H238.03M235.58 219.68V224.58" stroke-width="1.1"/><rect x="235.88" y="219.53" width="4.9" height="4.9"/><path d="M235.88 221.98H240.78M238.33 219.53V224.43" stroke-width="1.1"/><rect x="238.63" y="219.32" width="4.9" height="4.9"/><path d="M238.63 221.77H243.53M241.08 219.32V224.22" stroke-width="1.1"/><rect x="241.38" y="219.20" width="4.9" height="4.9"/><path d="M241.38 221.65H246.28M243.83 219.20V224.10" stroke-width="1.1"/><rect x="244.13" y="219.26" width="4.9" height="4.9"/><path d="M244.13 221.71H249.03M246.58 219.26V224.16" stroke-width="1.1"/><rect x="246.88" y="219.40" width="4.9" height="4.9"/><path d="M246.88 221.85H251.78M249.33 219.40V224.30" stroke-width="1.1"/><rect x="249.63" y="219.53" width="4.9" height="4.9"/><path d="M249.63 221.98H254.53M252.08 219.53V224.43" stroke-width="1.1"/><rect x="252.37" y="219.61" width="4.9" height="4.9"/><path d="M252.37 222.06H257.27M254.82 219.61V224.51" stroke-width="1.1"/><rect x="255.12" y="219.69" width="4.9" height="4.9"/><path d="M255.12 222.14H260.02M257.57 219.69V224.59" stroke-width="1.1"/><rect x="257.87" y="219.75" width="4.9" height="4.9"/><path d="M257.87 222.20H262.77M260.32 219.75V224.65" stroke-width="1.1"/><rect x="260.62" y="219.81" width="4.9" height="4.9"/><path d="M260.62 222.26H265.52M263.07 219.81V224.71" stroke-width="1.1"/><rect x="263.37" y="219.86" width="4.9" height="4.9"/><path d="M263.37 222.31H268.27M265.82 219.86V224.76" stroke-width="1.1"/></g>
<g><path d="M43.40 374.41L45.90 369.56L48.40 374.41Z" stroke-linejoin="round"/><path d="M46.15 373.58L48.65 368.73L51.15 373.58Z" stroke-linejoin="round"/><path d="M48.90 373.09L51.40 368.24L53.90 373.09Z" stroke-linejoin="round"/><path d="M51.65 372.92L54.15 368.07L56.65 372.92Z" stroke-linejoin="round"/><path d="M54.40 372.34L56.90 367.49L59.40 372.34Z" stroke-linejoin="round"/><path d="M57.14 372.34L59.64 367.49L62.14 372.34Z" stroke-linejoin="round"/><path d="M59.89 371.76L62.39 366.91L64.89 371.76Z" stroke-linejoin="round"/><path d="M62.64 372.34L65.14 367.49L67.64 372.34Z" stroke-linejoin="round"/><path d="M65.39 373.58L67.89 368.73L70.39 373.58Z" stroke-linejoin="round"/><path d="M68.14 374.41L70.64 369.56L73.14 374.41Z" stroke-linejoin="round"/><path d="M70.89 374.91L73.39 370.06L75.89 374.91Z" stroke-linejoin="round"/><path d="M73.64 375.40L76.14 370.55L78.64 375.40Z" stroke-linejoin="round"/><path d="M76.39 375.40L78.89 370.55L81.39 375.40Z" stroke-linejoin="round"/><path d="M79.14 374.91L81.64 370.06L84.14 374.91Z" stroke-linejoin="round"/><path d="M81.89 374.41L84.39 369.56L86.89 374.41Z" stroke-linejoin="round"/><path d="M84.63 374.41L87.13 369.56L89.63 374.41Z" stroke-linejoin="round"/><path d="M87.38 374.91L89.88 370.06L92.38 374.91Z" stroke-linejoin="round"/><path d="M90.13 374.91L92.63 370.06L95.13 374.91Z" stroke-linejoin="round"/><path d="M92.88 374.41L95.38 369.56L97.88 374.41Z" stroke-linejoin="round"/><path d="M95.63 374.41L98.13 369.56L100.63 374.41Z" stroke-linejoin="round"/><path d="M98.38 373.58L100.88 368.73L103.38 373.58Z" stroke-linejoin="round"/><path d="M101.13 373.58L103.63 368.73L106.13 373.58Z" stroke-linejoin="round"/><path d="M103.88 373.09L106.38 368.24L108.88 373.09Z" stroke-linejoin="round"/><path d="M106.63 372.92L109.13 368.07L111.63 372.92Z" stroke-linejoin="round"/><path d="M109.38 372.34L111.88 367.49L114.38 372.34Z" stroke-linejoin="round"/><path d="M112.12 370.94L114.62 366.09L117.12 370.94Z" stroke-linejoin="round"/><path d="M114.87 369.12L117.37 364.27L119.87 369.12Z" stroke-linejoin="round"/><path d="M117.62 366.47L120.12 361.62L122.62 366.47Z" stroke-linejoin="round"/><path d="M120.37 363.00L122.87 358.15L125.37 363.00Z" stroke-linejoin="round"/><path d="M123.12 359.03L125.62 354.18L128.12 359.03Z" stroke-linejoin="round"/><path d="M125.87 354.23L128.37 349.38L130.87 354.23Z" stroke-linejoin="round"/><path d="M128.62 349.77L131.12 344.92L133.62 349.77Z" stroke-linejoin="round"/><path d="M131.37 344.97L133.87 340.12L136.37 344.97Z" stroke-linejoin="round"/><path d="M134.12 340.01L136.62 335.16L139.12 340.01Z" stroke-linejoin="round"/><path d="M136.87 334.71L139.37 329.86L141.87 334.71Z" stroke-linejoin="round"/><path d="M139.62 329.26L142.12 324.41L144.62 329.26Z" stroke-linejoin="round"/><path d="M142.36 323.96L144.86 319.11L147.36 323.96Z" stroke-linejoin="round"/><path d="M145.11 318.84L147.61 313.99L150.11 318.84Z" stroke-linejoin="round"/><path d="M147.86 313.21L150.36 308.36L152.86 313.21Z" stroke-linejoin="round"/><path d="M150.61 304.78L153.11 299.93L155.61 304.78Z" stroke-linejoin="round"/><path d="M153.36 294.36L155.86 289.51L158.36 294.36Z" stroke-linejoin="round"/><path d="M156.11 284.93L158.61 280.08L161.11 284.93Z" stroke-linejoin="round"/><path d="M158.86 276.66L161.36 271.81L163.86 276.66Z" stroke-linejoin="round"/><path d="M161.61 270.04L164.11 265.19L166.61 270.04Z" stroke-linejoin="round"/><path d="M164.36 265.08L166.86 260.23L169.36 265.08Z" stroke-linejoin="round"/><path d="M167.10 261.28L169.60 256.43L172.10 261.28Z" stroke-linejoin="round"/><path d="M169.85 257.64L172.35 252.79L174.85 257.64Z" stroke-linejoin="round"/><path d="M172.60 254.33L175.10 249.48L177.60 254.33Z" stroke-linejoin="round"/><path d="M175.35 251.02L177.85 246.17L180.35 251.02Z" stroke-linejoin="round"/><path d="M178.10 248.38L180.60 243.53L183.10 248.38Z" stroke-linejoin="round"/><path d="M180.85 246.06L183.35 241.21L185.85 246.06Z" stroke-linejoin="round"/><path d="M183.60 244.08L186.10 239.23L188.60 244.08Z" stroke-linejoin="round"/><path d="M186.35 242.42L188.85 237.57L191.35 242.42Z" stroke-linejoin="round"/><path d="M189.10 241.26L191.60 236.41L194.10 241.26Z" stroke-linejoin="round"/><path d="M191.85 240.44L194.35 235.59L196.85 240.44Z" stroke-linejoin="round"/><path d="M194.59 239.44L197.09 234.59L199.59 239.44Z" stroke-linejoin="round"/><path d="M197.34 238.62L199.84 233.77L202.34 238.62Z" stroke-linejoin="round"/><path d="M200.09 237.46L202.59 232.61L205.09 237.46Z" stroke-linejoin="round"/><path d="M202.84 236.14L205.34 231.29L207.84 236.14Z" stroke-linejoin="round"/><path d="M205.59 234.81L208.09 229.96L210.59 234.81Z" stroke-linejoin="round"/><path d="M208.34 233.49L210.84 228.64L213.34 233.49Z" stroke-linejoin="round"/><path d="M211.09 232.50L213.59 227.65L216.09 232.50Z" stroke-linejoin="round"/><path d="M213.84 232.00L216.34 227.15L218.84 232.00Z" stroke-linejoin="round"/><path d="M216.59 232.50L219.09 227.65L221.59 232.50Z" stroke-linejoin="round"/><path d="M219.34 233.82L221.84 228.97L224.34 233.82Z" stroke-linejoin="round"/><path d="M222.09 235.81L224.59 230.96L227.09 235.81Z" stroke-linejoin="round"/><path d="M224.83 237.79L227.33 232.94L229.83 237.79Z" stroke-linejoin="round"/><path d="M227.58 239.44L230.08 234.59L232.58 239.44Z" stroke-linejoin="round"/><path d="M230.33 241.10L232.83 236.25L235.33 241.10Z" stroke-linejoin="round"/><path d="M233.08 242.09L235.58 237.24L238.08 242.09Z" stroke-linejoin="round"/><path d="M235.83 242.26L238.33 237.41L240.83 242.26Z" stroke-linejoin="round"/><path d="M238.58 242.26L241.08 237.41L243.58 242.26Z" stroke-linejoin="round"/><path d="M241.33 242.09L243.83 237.24L246.33 242.09Z" stroke-linejoin="round"/><path d="M244.08 241.92L246.58 237.07L249.08 241.92Z" stroke-linejoin="round"/><path d="M246.83 241.76L249.33 236.91L251.83 241.76Z" stroke-linejoin="round"/><path d="M249.58 241.43L252.08 236.58L254.58 241.43Z" stroke-linejoin="round"/><path d="M252.32 241.10L254.82 236.25L257.32 241.10Z" stroke-linejoin="round"/><path d="M255.07 240.77L257.57 235.92L260.07 240.77Z" stroke-linejoin="round"/><path d="M257.82 240.44L260.32 235.59L262.82 240.44Z" stroke-linejoin="round"/><path d="M260.57 239.94L263.07 235.09L265.57 239.94Z" stroke-linejoin="round"/><path d="M263.32 240.11L265.82 235.26L268.32 240.11Z" stroke-linejoin="round"/></g>
<g><circle cx="45.90" cy="349.34" r="2.5"/><circle cx="48.65" cy="349.34" r="2.5"/><circle cx="51.40" cy="350.16" r="2.5"/><circle cx="54.15" cy="350.99" r="2.5"/><circle cx="56.90" cy="350.16" r="2.5"/><circle cx="59.64" cy="349.34" r="2.5"/><circle cx="62.39" cy="348.34" r="2.5"/><circle cx="65.14" cy="347.52" r="2.5"/><circle cx="67.89" cy="347.52" r="2.5"/><circle cx="70.64" cy="348.34" r="2.5"/><circle cx="73.39" cy="348.84" r="2.5"/><circle cx="76.14" cy="349.34" r="2.5"/><circle cx="78.89" cy="349.34" r="2.5"/><circle cx="81.64" cy="348.84" r="2.5"/><circle cx="84.39" cy="347.52" r="2.5"/><circle cx="87.13" cy="346.69" r="2.5"/><circle cx="89.88" cy="346.69" r="2.5"/><circle cx="92.63" cy="347.52" r="2.5"/><circle cx="95.38" cy="348.34" r="2.5"/><circle cx="98.13" cy="349.34" r="2.5"/><circle cx="100.88" cy="350.16" r="2.5"/><circle cx="103.63" cy="350.16" r="2.5"/><circle cx="106.38" cy="349.34" r="2.5"/><circle cx="109.13" cy="347.52" r="2.5"/><circle cx="111.88" cy="346.19" r="2.5"/><circle cx="114.62" cy="344.87" r="2.5"/><circle cx="117.37" cy="344.37" r="2.5"/><circle cx="120.12" cy="344.37" r="2.5"/><circle cx="122.87" cy="344.87" r="2.5"/><circle cx="125.62" cy="344.87" r="2.5"/><circle cx="128.37" cy="343.05" r="2.5"/><circle cx="131.12" cy="341.40" r="2.5"/><circle cx="133.87" cy="340.40" r="2.5"/><circle cx="136.62" cy="338.42" r="2.5"/><circle cx="139.37" cy="334.78" r="2.5"/><circle cx="142.12" cy="329.82" r="2.5"/><circle cx="144.86" cy="325.19" r="2.5"/><circle cx="147.61" cy="319.56" r="2.5"/><circle cx="150.36" cy="312.45" r="2.5"/><circle cx="153.11" cy="303.35" r="2.5"/><circle cx="155.86" cy="295.08" r="2.5"/><circle cx="158.61" cy="287.64" r="2.5"/><circle cx="161.36" cy="281.85" r="2.5"/><circle cx="164.11" cy="277.72" r="2.5"/><circle cx="166.86" cy="274.08" r="2.5"/><circle cx="169.60" cy="271.10" r="2.5"/><circle cx="172.35" cy="269.45" r="2.5"/><circle cx="175.10" cy="267.79" r="2.5"/><circle cx="177.85" cy="266.64" r="2.5"/><circle cx="180.60" cy="265.31" r="2.5"/><circle cx="183.35" cy="264.48" r="2.5"/><circle cx="186.10" cy="263.33" r="2.5"/><circle cx="188.85" cy="262.83" r="2.5"/><circle cx="191.60" cy="261.51" r="2.5"/><circle cx="194.35" cy="260.02" r="2.5"/><circle cx="197.09" cy="258.86" r="2.5"/><circle cx="199.84" cy="257.70" r="2.5"/><circle cx="202.59" cy="257.04" r="2.5"/><circle cx="205.34" cy="256.55" r="2.5"/><circle cx="208.09" cy="256.55" r="2.5"/><circle cx="210.84" cy="256.55" r="2.5"/><circle cx="213.59" cy="257.04" r="2.5"/><circle cx="216.34" cy="257.70" r="2.5"/><circle cx="219.09" cy="257.70" r="2.5"/><circle cx="221.84" cy="258.37" r="2.5"/><circle cx="224.59" cy="258.86" r="2.5"/><circle cx="227.33" cy="259.36" r="2.5"/><circle cx="230.08" cy="258.37" r="2.5"/><circle cx="232.83" cy="257.70" r="2.5"/><circle cx="235.58" cy="258.37" r="2.5"/><circle cx="238.33" cy="259.36" r="2.5"/><circle cx="241.08" cy="261.18" r="2.5"/><circle cx="243.83" cy="262.83" r="2.5"/><circle cx="246.58" cy="264.48" r="2.5"/><circle cx="249.33" cy="265.97" r="2.5"/><circle cx="252.08" cy="266.64" r="2.5"/><circle cx="254.82" cy="265.48" r="2.5"/><circle cx="257.57" cy="265.15" r="2.5"/><circle cx="260.32" cy="264.48" r="2.5"/><circle cx="263.07" cy="262.83" r="2.5"/><circle cx="265.82" cy="260.68" r="2.5"/></g>
<polyline points="311.80,383.40 314.55,383.36 317.29,383.30 320.04,383.23 322.78,383.16 325.53,383.07 328.27,382.97 331.01,382.85 333.76,382.72 336.50,382.57 339.25,382.41 342.00,382.23 344.74,382.02 347.49,381.79 350.23,381.54 352.98,381.25 355.72,380.94 358.47,380.59 361.21,380.19 363.96,379.72 366.70,379.17 369.44,378.41 372.19,377.46 374.94,376.38 377.68,375.14 380.43,373.76 383.17,372.17 385.92,370.30 388.66,368.21 391.41,366.03 394.15,363.59 396.89,360.70 399.64,357.31 402.38,353.30 405.13,348.56 407.88,342.90 410.62,336.35 413.37,328.97 416.11,320.66 418.86,311.09 421.60,300.85 424.35,291.11 427.09,281.53 429.84,273.28 432.58,266.01 435.33,259.41 438.07,253.63 440.82,248.51 443.56,243.89 446.31,239.93 449.05,236.63 451.80,233.65 454.54,231.18 457.29,229.21 460.03,227.55 462.77,226.12 465.52,224.85 468.26,223.75 471.01,222.78 473.75,221.94 476.50,221.30 479.25,220.74 481.99,220.28 484.74,219.95 487.48,219.71 490.23,219.51 492.97,219.34 495.72,219.19 498.46,219.07 501.21,218.96 503.95,218.86 506.70,218.77 509.44,218.68 512.19,218.59 514.93,218.51 517.67,218.44 520.42,218.39 523.16,218.34 525.91,218.31 528.65,218.30" fill="none" stroke-width="1.0" stroke-dasharray="none"/>
<g><rect x="309.40" y="381.00" width="4.8" height="4.8"/><rect x="312.15" y="380.96" width="4.8" height="4.8"/><rect x="314.89" y="380.90" width="4.8" height="4.8"/><rect x="317.64" y="380.83" width="4.8" height="4.8"/><rect x="320.38" y="380.76" width="4.8" height="4.8"/><rect x="323.13" y="380.67" width="4.8" height="4.8"/><rect x="325.87" y="380.57" width="4.8" height="4.8"/><rect x="328.62" y="380.45" width="4.8" height="4.8"/><rect x="331.36" y="380.32" width="4.8" height="4.8"/><rect x="334.11" y="380.17" width="4.8" height="4.8"/><rect x="336.85" y="380.01" width="4.8" height="4.8"/><rect x="339.60" y="379.83" width="4.8" height="4.8"/><rect x="342.34" y="379.62" width="4.8" height="4.8"/><rect x="345.09" y="379.39" width="4.8" height="4.8"/><rect x="347.83" y="379.14" width="4.8" height="4.8"/><rect x="350.58" y="378.85" width="4.8" height="4.8"/><rect x="353.32" y="378.54" width="4.8" height="4.8"/><rect x="356.07" y="378.19" width="4.8" height="4.8"/><rect x="358.81" y="377.79" width="4.8" height="4.8"/><rect x="361.56" y="377.32" width="4.8" height="4.8"/><rect x="364.30" y="376.77" width="4.8" height="4.8"/><rect x="367.05" y="376.01" width="4.8" height="4.8"/><rect x="369.79" y="375.06" width="4.8" height="4.8"/><rect x="372.54" y="373.98" width="4.8" height="4.8"/><rect x="375.28" y="372.75" width="4.8" height="4.8"/><rect x="378.03" y="371.36" width="4.8" height="4.8"/><rect x="380.77" y="369.77" width="4.8" height="4.8"/><rect x="383.52" y="367.90" width="4.8" height="4.8"/><rect x="386.26" y="365.81" width="4.8" height="4.8"/><rect x="389.01" y="363.63" width="4.8" height="4.8"/><rect x="391.75" y="361.19" width="4.8" height="4.8"/><rect x="394.50" y="358.30" width="4.8" height="4.8"/><rect x="397.24" y="354.91" width="4.8" height="4.8"/><rect x="399.99" y="350.90" width="4.8" height="4.8"/><rect x="402.73" y="346.16" width="4.8" height="4.8"/><rect x="405.48" y="340.50" width="4.8" height="4.8"/><rect x="408.22" y="333.95" width="4.8" height="4.8"/><rect x="410.97" y="326.57" width="4.8" height="4.8"/><rect x="413.71" y="318.26" width="4.8" height="4.8"/><rect x="416.46" y="308.69" width="4.8" height="4.8"/><rect x="419.20" y="298.45" width="4.8" height="4.8"/><rect x="421.95" y="288.71" width="4.8" height="4.8"/><rect x="424.69" y="279.13" width="4.8" height="4.8"/><rect x="427.44" y="270.88" width="4.8" height="4.8"/><rect x="430.18" y="263.61" width="4.8" height="4.8"/><rect x="432.93" y="257.01" width="4.8" height="4.8"/><rect x="435.67" y="251.23" width="4.8" height="4.8"/><rect x="438.42" y="246.11" width="4.8" height="4.8"/><rect x="441.16" y="241.49" width="4.8" height="4.8"/><rect x="443.91" y="237.53" width="4.8" height="4.8"/><rect x="446.65" y="234.23" width="4.8" height="4.8"/><rect x="449.40" y="231.25" width="4.8" height="4.8"/><rect x="452.14" y="228.78" width="4.8" height="4.8"/><rect x="454.89" y="226.81" width="4.8" height="4.8"/><rect x="457.63" y="225.15" width="4.8" height="4.8"/><rect x="460.38" y="223.72" width="4.8" height="4.8"/><rect x="463.12" y="222.45" width="4.8" height="4.8"/><rect x="465.87" y="221.35" width="4.8" height="4.8"/><rect x="468.61" y="220.38" width="4.8" height="4.8"/><rect x="471.36" y="219.54" width="4.8" height="4.8"/><rect x="474.10" y="218.90" width="4.8" height="4.8"/><rect x="476.85" y="218.34" width="4.8" height="4.8"/><rect x="479.59" y="217.88" width="4.8" height="4.8"/><rect x="482.34" y="217.55" width="4.8" height="4.8"/><rect x="485.08" y="217.31" width="4.8" height="4.8"/><rect x="487.83" y="217.11" width="4.8" height="4.8"/><rect x="490.57" y="216.94" width="4.8" height="4.8"/><rect x="493.32" y="216.79" width="4.8" height="4.8"/><rect x="496.06" y="216.67" width="4.8" height="4.8"/><rect x="498.81" y="216.56" width="4.8" height="4.8"/><rect x="501.55" y="216.46" width="4.8" height="4.8"/><rect x="504.30" y="216.37" width="4.8" height="4.8"/><rect x="507.04" y="216.28" width="4.8" height="4.8"/><rect x="509.79" y="216.19" width="4.8" height="4.8"/><rect x="512.53" y="216.11" width="4.8" height="4.8"/><rect x="515.27" y="216.04" width="4.8" height="4.8"/><rect x="518.02" y="215.99" width="4.8" height="4.8"/><rect x="520.76" y="215.94" width="4.8" height="4.8"/><rect x="523.51" y="215.91" width="4.8" height="4.8"/><rect x="526.25" y="215.90" width="4.8" height="4.8"/></g>
<path d="M479.6 62.1H514.2" stroke-width="1.3" stroke-dasharray="2.2 0.6" fill="none"/>
<rect x="494.35" y="59.45" width="5.3" height="5.3"/>
<path d="M479.6 81.2H514.2" stroke-width="1.3" stroke-dasharray="1.4 1.7" fill="none"/>
<circle cx="496.10" cy="81.20" r="2.6"/>
<path d="M479.6 101.0H514.2" stroke-width="1.3" stroke-dasharray="2.2 0.6" fill="none"/>
<path d="M493.75 103.05L496.20 98.20L498.65 103.05Z" stroke-linejoin="round"/>
<path d="M479.6 121.2H514.2" stroke-width="1.3" stroke-dasharray="2.7 2.6" fill="none"/>
<rect x="493.75" y="118.75" width="4.9" height="4.9"/><path d="M493.75 121.20H498.65M496.20 118.75V123.65" stroke-width="1.1"/>
</g>
<g stroke="#111" stroke-width="0.25">
<text x="525" y="64.8" font-size="8">Time = 0</text>
<text x="525" y="83.9" font-size="8">Time = 25</text>
<text x="525" y="103.7" font-size="8">Time = 50</text>
<text x="525" y="123.9" font-size="8">Time = 100</text>
<text x="52" y="29.6" font-size="10.9" font-weight="bold" xml:space="preserve">Random  2</text>
<text x="326.8" y="29.0" font-size="10.9" font-weight="bold">Front</text>
<text x="54.6" y="236.6" font-size="10.9" font-weight="bold" xml:space="preserve">Random  16</text>
<text x="327.4" y="236.6" font-size="10.9" font-weight="bold">PDE</text>
<text x="159.7" y="413.4" text-anchor="middle">Position</text>
<text x="424.8" y="413.0" text-anchor="middle">Position</text>
<text transform="translate(9.2 89) rotate(-90)" text-anchor="middle" font-size="10.1">Allele Frequency</text>
<text transform="translate(9.4 298.2) rotate(-90)" text-anchor="middle" font-size="10.1">Allele Frequency</text>
</g>
</g></svg>
</body></html>
